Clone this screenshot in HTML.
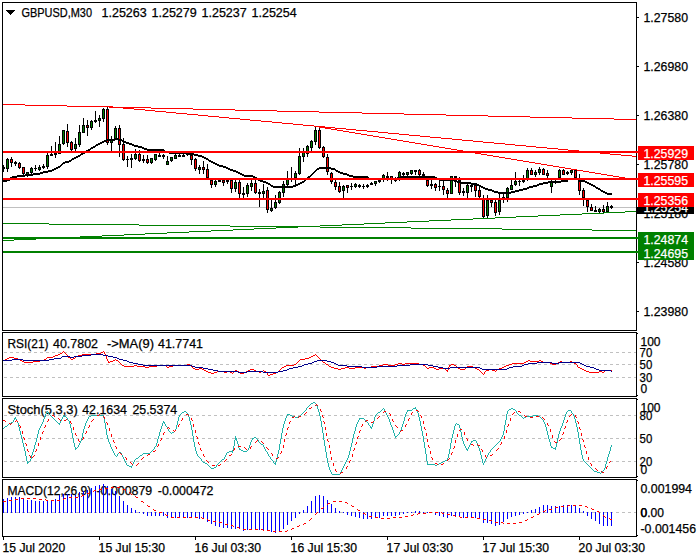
<!DOCTYPE html><html><head><meta charset="utf-8"><title>GBPUSD,M30</title>
<style>html,body{margin:0;padding:0;background:#fff;width:700px;height:560px;overflow:hidden}svg{display:block}text{font-family:"Liberation Sans",sans-serif;font-size:12px;fill:#000;stroke:#000;stroke-width:.25px}</style></head><body>
<svg width="700" height="560" viewBox="0 0 700 560">
<rect width="700" height="560" fill="#fff"/>
<g shape-rendering="crispEdges">
<path d="M4 352h3v1h-3zM10 352h3v1h-3zM16 352h3v1h-3zM22 352h3v1h-3zM28 352h3v1h-3zM34 352h3v1h-3zM40 352h3v1h-3zM46 352h3v1h-3zM52 352h3v1h-3zM58 352h3v1h-3zM64 352h3v1h-3zM70 352h3v1h-3zM76 352h3v1h-3zM82 352h3v1h-3zM88 352h3v1h-3zM94 352h3v1h-3zM100 352h3v1h-3zM106 352h3v1h-3zM112 352h3v1h-3zM118 352h3v1h-3zM124 352h3v1h-3zM130 352h3v1h-3zM136 352h3v1h-3zM142 352h3v1h-3zM148 352h3v1h-3zM154 352h3v1h-3zM160 352h3v1h-3zM166 352h3v1h-3zM172 352h3v1h-3zM178 352h3v1h-3zM184 352h3v1h-3zM190 352h3v1h-3zM196 352h3v1h-3zM202 352h3v1h-3zM208 352h3v1h-3zM214 352h3v1h-3zM220 352h3v1h-3zM226 352h3v1h-3zM232 352h3v1h-3zM238 352h3v1h-3zM244 352h3v1h-3zM250 352h3v1h-3zM256 352h3v1h-3zM262 352h3v1h-3zM268 352h3v1h-3zM274 352h3v1h-3zM280 352h3v1h-3zM286 352h3v1h-3zM292 352h3v1h-3zM298 352h3v1h-3zM304 352h3v1h-3zM310 352h3v1h-3zM316 352h3v1h-3zM322 352h3v1h-3zM328 352h3v1h-3zM334 352h3v1h-3zM340 352h3v1h-3zM346 352h3v1h-3zM352 352h3v1h-3zM358 352h3v1h-3zM364 352h3v1h-3zM370 352h3v1h-3zM376 352h3v1h-3zM382 352h3v1h-3zM388 352h3v1h-3zM394 352h3v1h-3zM400 352h3v1h-3zM406 352h3v1h-3zM412 352h3v1h-3zM418 352h3v1h-3zM424 352h3v1h-3zM430 352h3v1h-3zM436 352h3v1h-3zM442 352h3v1h-3zM448 352h3v1h-3zM454 352h3v1h-3zM460 352h3v1h-3zM466 352h3v1h-3zM472 352h3v1h-3zM478 352h3v1h-3zM484 352h3v1h-3zM490 352h3v1h-3zM496 352h3v1h-3zM502 352h3v1h-3zM508 352h3v1h-3zM514 352h3v1h-3zM520 352h3v1h-3zM526 352h3v1h-3zM532 352h3v1h-3zM538 352h3v1h-3zM544 352h3v1h-3zM550 352h3v1h-3zM556 352h3v1h-3zM562 352h3v1h-3zM568 352h3v1h-3zM574 352h3v1h-3zM580 352h3v1h-3zM586 352h3v1h-3zM592 352h3v1h-3zM598 352h3v1h-3zM604 352h3v1h-3zM610 352h3v1h-3zM616 352h3v1h-3zM622 352h3v1h-3zM628 352h3v1h-3zM634 352h2v1h-2z" fill="#c0c0c0"/>
<path d="M4 364h3v1h-3zM10 364h3v1h-3zM16 364h3v1h-3zM22 364h3v1h-3zM28 364h3v1h-3zM34 364h3v1h-3zM40 364h3v1h-3zM46 364h3v1h-3zM52 364h3v1h-3zM58 364h3v1h-3zM64 364h3v1h-3zM70 364h3v1h-3zM76 364h3v1h-3zM82 364h3v1h-3zM88 364h3v1h-3zM94 364h3v1h-3zM100 364h3v1h-3zM106 364h3v1h-3zM112 364h3v1h-3zM118 364h3v1h-3zM124 364h3v1h-3zM130 364h3v1h-3zM136 364h3v1h-3zM142 364h3v1h-3zM148 364h3v1h-3zM154 364h3v1h-3zM160 364h3v1h-3zM166 364h3v1h-3zM172 364h3v1h-3zM178 364h3v1h-3zM184 364h3v1h-3zM190 364h3v1h-3zM196 364h3v1h-3zM202 364h3v1h-3zM208 364h3v1h-3zM214 364h3v1h-3zM220 364h3v1h-3zM226 364h3v1h-3zM232 364h3v1h-3zM238 364h3v1h-3zM244 364h3v1h-3zM250 364h3v1h-3zM256 364h3v1h-3zM262 364h3v1h-3zM268 364h3v1h-3zM274 364h3v1h-3zM280 364h3v1h-3zM286 364h3v1h-3zM292 364h3v1h-3zM298 364h3v1h-3zM304 364h3v1h-3zM310 364h3v1h-3zM316 364h3v1h-3zM322 364h3v1h-3zM328 364h3v1h-3zM334 364h3v1h-3zM340 364h3v1h-3zM346 364h3v1h-3zM352 364h3v1h-3zM358 364h3v1h-3zM364 364h3v1h-3zM370 364h3v1h-3zM376 364h3v1h-3zM382 364h3v1h-3zM388 364h3v1h-3zM394 364h3v1h-3zM400 364h3v1h-3zM406 364h3v1h-3zM412 364h3v1h-3zM418 364h3v1h-3zM424 364h3v1h-3zM430 364h3v1h-3zM436 364h3v1h-3zM442 364h3v1h-3zM448 364h3v1h-3zM454 364h3v1h-3zM460 364h3v1h-3zM466 364h3v1h-3zM472 364h3v1h-3zM478 364h3v1h-3zM484 364h3v1h-3zM490 364h3v1h-3zM496 364h3v1h-3zM502 364h3v1h-3zM508 364h3v1h-3zM514 364h3v1h-3zM520 364h3v1h-3zM526 364h3v1h-3zM532 364h3v1h-3zM538 364h3v1h-3zM544 364h3v1h-3zM550 364h3v1h-3zM556 364h3v1h-3zM562 364h3v1h-3zM568 364h3v1h-3zM574 364h3v1h-3zM580 364h3v1h-3zM586 364h3v1h-3zM592 364h3v1h-3zM598 364h3v1h-3zM604 364h3v1h-3zM610 364h3v1h-3zM616 364h3v1h-3zM622 364h3v1h-3zM628 364h3v1h-3zM634 364h2v1h-2z" fill="#c0c0c0"/>
<path d="M4 377h3v1h-3zM10 377h3v1h-3zM16 377h3v1h-3zM22 377h3v1h-3zM28 377h3v1h-3zM34 377h3v1h-3zM40 377h3v1h-3zM46 377h3v1h-3zM52 377h3v1h-3zM58 377h3v1h-3zM64 377h3v1h-3zM70 377h3v1h-3zM76 377h3v1h-3zM82 377h3v1h-3zM88 377h3v1h-3zM94 377h3v1h-3zM100 377h3v1h-3zM106 377h3v1h-3zM112 377h3v1h-3zM118 377h3v1h-3zM124 377h3v1h-3zM130 377h3v1h-3zM136 377h3v1h-3zM142 377h3v1h-3zM148 377h3v1h-3zM154 377h3v1h-3zM160 377h3v1h-3zM166 377h3v1h-3zM172 377h3v1h-3zM178 377h3v1h-3zM184 377h3v1h-3zM190 377h3v1h-3zM196 377h3v1h-3zM202 377h3v1h-3zM208 377h3v1h-3zM214 377h3v1h-3zM220 377h3v1h-3zM226 377h3v1h-3zM232 377h3v1h-3zM238 377h3v1h-3zM244 377h3v1h-3zM250 377h3v1h-3zM256 377h3v1h-3zM262 377h3v1h-3zM268 377h3v1h-3zM274 377h3v1h-3zM280 377h3v1h-3zM286 377h3v1h-3zM292 377h3v1h-3zM298 377h3v1h-3zM304 377h3v1h-3zM310 377h3v1h-3zM316 377h3v1h-3zM322 377h3v1h-3zM328 377h3v1h-3zM334 377h3v1h-3zM340 377h3v1h-3zM346 377h3v1h-3zM352 377h3v1h-3zM358 377h3v1h-3zM364 377h3v1h-3zM370 377h3v1h-3zM376 377h3v1h-3zM382 377h3v1h-3zM388 377h3v1h-3zM394 377h3v1h-3zM400 377h3v1h-3zM406 377h3v1h-3zM412 377h3v1h-3zM418 377h3v1h-3zM424 377h3v1h-3zM430 377h3v1h-3zM436 377h3v1h-3zM442 377h3v1h-3zM448 377h3v1h-3zM454 377h3v1h-3zM460 377h3v1h-3zM466 377h3v1h-3zM472 377h3v1h-3zM478 377h3v1h-3zM484 377h3v1h-3zM490 377h3v1h-3zM496 377h3v1h-3zM502 377h3v1h-3zM508 377h3v1h-3zM514 377h3v1h-3zM520 377h3v1h-3zM526 377h3v1h-3zM532 377h3v1h-3zM538 377h3v1h-3zM544 377h3v1h-3zM550 377h3v1h-3zM556 377h3v1h-3zM562 377h3v1h-3zM568 377h3v1h-3zM574 377h3v1h-3zM580 377h3v1h-3zM586 377h3v1h-3zM592 377h3v1h-3zM598 377h3v1h-3zM604 377h3v1h-3zM610 377h3v1h-3zM616 377h3v1h-3zM622 377h3v1h-3zM628 377h3v1h-3zM634 377h2v1h-2z" fill="#c0c0c0"/>
<path d="M4 415h3v1h-3zM10 415h3v1h-3zM16 415h3v1h-3zM22 415h3v1h-3zM28 415h3v1h-3zM34 415h3v1h-3zM40 415h3v1h-3zM46 415h3v1h-3zM52 415h3v1h-3zM58 415h3v1h-3zM64 415h3v1h-3zM70 415h3v1h-3zM76 415h3v1h-3zM82 415h3v1h-3zM88 415h3v1h-3zM94 415h3v1h-3zM100 415h3v1h-3zM106 415h3v1h-3zM112 415h3v1h-3zM118 415h3v1h-3zM124 415h3v1h-3zM130 415h3v1h-3zM136 415h3v1h-3zM142 415h3v1h-3zM148 415h3v1h-3zM154 415h3v1h-3zM160 415h3v1h-3zM166 415h3v1h-3zM172 415h3v1h-3zM178 415h3v1h-3zM184 415h3v1h-3zM190 415h3v1h-3zM196 415h3v1h-3zM202 415h3v1h-3zM208 415h3v1h-3zM214 415h3v1h-3zM220 415h3v1h-3zM226 415h3v1h-3zM232 415h3v1h-3zM238 415h3v1h-3zM244 415h3v1h-3zM250 415h3v1h-3zM256 415h3v1h-3zM262 415h3v1h-3zM268 415h3v1h-3zM274 415h3v1h-3zM280 415h3v1h-3zM286 415h3v1h-3zM292 415h3v1h-3zM298 415h3v1h-3zM304 415h3v1h-3zM310 415h3v1h-3zM316 415h3v1h-3zM322 415h3v1h-3zM328 415h3v1h-3zM334 415h3v1h-3zM340 415h3v1h-3zM346 415h3v1h-3zM352 415h3v1h-3zM358 415h3v1h-3zM364 415h3v1h-3zM370 415h3v1h-3zM376 415h3v1h-3zM382 415h3v1h-3zM388 415h3v1h-3zM394 415h3v1h-3zM400 415h3v1h-3zM406 415h3v1h-3zM412 415h3v1h-3zM418 415h3v1h-3zM424 415h3v1h-3zM430 415h3v1h-3zM436 415h3v1h-3zM442 415h3v1h-3zM448 415h3v1h-3zM454 415h3v1h-3zM460 415h3v1h-3zM466 415h3v1h-3zM472 415h3v1h-3zM478 415h3v1h-3zM484 415h3v1h-3zM490 415h3v1h-3zM496 415h3v1h-3zM502 415h3v1h-3zM508 415h3v1h-3zM514 415h3v1h-3zM520 415h3v1h-3zM526 415h3v1h-3zM532 415h3v1h-3zM538 415h3v1h-3zM544 415h3v1h-3zM550 415h3v1h-3zM556 415h3v1h-3zM562 415h3v1h-3zM568 415h3v1h-3zM574 415h3v1h-3zM580 415h3v1h-3zM586 415h3v1h-3zM592 415h3v1h-3zM598 415h3v1h-3zM604 415h3v1h-3zM610 415h3v1h-3zM616 415h3v1h-3zM622 415h3v1h-3zM628 415h3v1h-3zM634 415h2v1h-2z" fill="#c0c0c0"/>
<path d="M4 438h3v1h-3zM10 438h3v1h-3zM16 438h3v1h-3zM22 438h3v1h-3zM28 438h3v1h-3zM34 438h3v1h-3zM40 438h3v1h-3zM46 438h3v1h-3zM52 438h3v1h-3zM58 438h3v1h-3zM64 438h3v1h-3zM70 438h3v1h-3zM76 438h3v1h-3zM82 438h3v1h-3zM88 438h3v1h-3zM94 438h3v1h-3zM100 438h3v1h-3zM106 438h3v1h-3zM112 438h3v1h-3zM118 438h3v1h-3zM124 438h3v1h-3zM130 438h3v1h-3zM136 438h3v1h-3zM142 438h3v1h-3zM148 438h3v1h-3zM154 438h3v1h-3zM160 438h3v1h-3zM166 438h3v1h-3zM172 438h3v1h-3zM178 438h3v1h-3zM184 438h3v1h-3zM190 438h3v1h-3zM196 438h3v1h-3zM202 438h3v1h-3zM208 438h3v1h-3zM214 438h3v1h-3zM220 438h3v1h-3zM226 438h3v1h-3zM232 438h3v1h-3zM238 438h3v1h-3zM244 438h3v1h-3zM250 438h3v1h-3zM256 438h3v1h-3zM262 438h3v1h-3zM268 438h3v1h-3zM274 438h3v1h-3zM280 438h3v1h-3zM286 438h3v1h-3zM292 438h3v1h-3zM298 438h3v1h-3zM304 438h3v1h-3zM310 438h3v1h-3zM316 438h3v1h-3zM322 438h3v1h-3zM328 438h3v1h-3zM334 438h3v1h-3zM340 438h3v1h-3zM346 438h3v1h-3zM352 438h3v1h-3zM358 438h3v1h-3zM364 438h3v1h-3zM370 438h3v1h-3zM376 438h3v1h-3zM382 438h3v1h-3zM388 438h3v1h-3zM394 438h3v1h-3zM400 438h3v1h-3zM406 438h3v1h-3zM412 438h3v1h-3zM418 438h3v1h-3zM424 438h3v1h-3zM430 438h3v1h-3zM436 438h3v1h-3zM442 438h3v1h-3zM448 438h3v1h-3zM454 438h3v1h-3zM460 438h3v1h-3zM466 438h3v1h-3zM472 438h3v1h-3zM478 438h3v1h-3zM484 438h3v1h-3zM490 438h3v1h-3zM496 438h3v1h-3zM502 438h3v1h-3zM508 438h3v1h-3zM514 438h3v1h-3zM520 438h3v1h-3zM526 438h3v1h-3zM532 438h3v1h-3zM538 438h3v1h-3zM544 438h3v1h-3zM550 438h3v1h-3zM556 438h3v1h-3zM562 438h3v1h-3zM568 438h3v1h-3zM574 438h3v1h-3zM580 438h3v1h-3zM586 438h3v1h-3zM592 438h3v1h-3zM598 438h3v1h-3zM604 438h3v1h-3zM610 438h3v1h-3zM616 438h3v1h-3zM622 438h3v1h-3zM628 438h3v1h-3zM634 438h2v1h-2z" fill="#c0c0c0"/>
<path d="M4 461h3v1h-3zM10 461h3v1h-3zM16 461h3v1h-3zM22 461h3v1h-3zM28 461h3v1h-3zM34 461h3v1h-3zM40 461h3v1h-3zM46 461h3v1h-3zM52 461h3v1h-3zM58 461h3v1h-3zM64 461h3v1h-3zM70 461h3v1h-3zM76 461h3v1h-3zM82 461h3v1h-3zM88 461h3v1h-3zM94 461h3v1h-3zM100 461h3v1h-3zM106 461h3v1h-3zM112 461h3v1h-3zM118 461h3v1h-3zM124 461h3v1h-3zM130 461h3v1h-3zM136 461h3v1h-3zM142 461h3v1h-3zM148 461h3v1h-3zM154 461h3v1h-3zM160 461h3v1h-3zM166 461h3v1h-3zM172 461h3v1h-3zM178 461h3v1h-3zM184 461h3v1h-3zM190 461h3v1h-3zM196 461h3v1h-3zM202 461h3v1h-3zM208 461h3v1h-3zM214 461h3v1h-3zM220 461h3v1h-3zM226 461h3v1h-3zM232 461h3v1h-3zM238 461h3v1h-3zM244 461h3v1h-3zM250 461h3v1h-3zM256 461h3v1h-3zM262 461h3v1h-3zM268 461h3v1h-3zM274 461h3v1h-3zM280 461h3v1h-3zM286 461h3v1h-3zM292 461h3v1h-3zM298 461h3v1h-3zM304 461h3v1h-3zM310 461h3v1h-3zM316 461h3v1h-3zM322 461h3v1h-3zM328 461h3v1h-3zM334 461h3v1h-3zM340 461h3v1h-3zM346 461h3v1h-3zM352 461h3v1h-3zM358 461h3v1h-3zM364 461h3v1h-3zM370 461h3v1h-3zM376 461h3v1h-3zM382 461h3v1h-3zM388 461h3v1h-3zM394 461h3v1h-3zM400 461h3v1h-3zM406 461h3v1h-3zM412 461h3v1h-3zM418 461h3v1h-3zM424 461h3v1h-3zM430 461h3v1h-3zM436 461h3v1h-3zM442 461h3v1h-3zM448 461h3v1h-3zM454 461h3v1h-3zM460 461h3v1h-3zM466 461h3v1h-3zM472 461h3v1h-3zM478 461h3v1h-3zM484 461h3v1h-3zM490 461h3v1h-3zM496 461h3v1h-3zM502 461h3v1h-3zM508 461h3v1h-3zM514 461h3v1h-3zM520 461h3v1h-3zM526 461h3v1h-3zM532 461h3v1h-3zM538 461h3v1h-3zM544 461h3v1h-3zM550 461h3v1h-3zM556 461h3v1h-3zM562 461h3v1h-3zM568 461h3v1h-3zM574 461h3v1h-3zM580 461h3v1h-3zM586 461h3v1h-3zM592 461h3v1h-3zM598 461h3v1h-3zM604 461h3v1h-3zM610 461h3v1h-3zM616 461h3v1h-3zM622 461h3v1h-3zM628 461h3v1h-3zM634 461h2v1h-2z" fill="#c0c0c0"/>
<path d="M4 512h3v1h-3zM10 512h3v1h-3zM16 512h3v1h-3zM22 512h3v1h-3zM28 512h3v1h-3zM34 512h3v1h-3zM40 512h3v1h-3zM46 512h3v1h-3zM52 512h3v1h-3zM58 512h3v1h-3zM64 512h3v1h-3zM70 512h3v1h-3zM76 512h3v1h-3zM82 512h3v1h-3zM88 512h3v1h-3zM94 512h3v1h-3zM100 512h3v1h-3zM106 512h3v1h-3zM112 512h3v1h-3zM118 512h3v1h-3zM124 512h3v1h-3zM130 512h3v1h-3zM136 512h3v1h-3zM142 512h3v1h-3zM148 512h3v1h-3zM154 512h3v1h-3zM160 512h3v1h-3zM166 512h3v1h-3zM172 512h3v1h-3zM178 512h3v1h-3zM184 512h3v1h-3zM190 512h3v1h-3zM196 512h3v1h-3zM202 512h3v1h-3zM208 512h3v1h-3zM214 512h3v1h-3zM220 512h3v1h-3zM226 512h3v1h-3zM232 512h3v1h-3zM238 512h3v1h-3zM244 512h3v1h-3zM250 512h3v1h-3zM256 512h3v1h-3zM262 512h3v1h-3zM268 512h3v1h-3zM274 512h3v1h-3zM280 512h3v1h-3zM286 512h3v1h-3zM292 512h3v1h-3zM298 512h3v1h-3zM304 512h3v1h-3zM310 512h3v1h-3zM316 512h3v1h-3zM322 512h3v1h-3zM328 512h3v1h-3zM334 512h3v1h-3zM340 512h3v1h-3zM346 512h3v1h-3zM352 512h3v1h-3zM358 512h3v1h-3zM364 512h3v1h-3zM370 512h3v1h-3zM376 512h3v1h-3zM382 512h3v1h-3zM388 512h3v1h-3zM394 512h3v1h-3zM400 512h3v1h-3zM406 512h3v1h-3zM412 512h3v1h-3zM418 512h3v1h-3zM424 512h3v1h-3zM430 512h3v1h-3zM436 512h3v1h-3zM442 512h3v1h-3zM448 512h3v1h-3zM454 512h3v1h-3zM460 512h3v1h-3zM466 512h3v1h-3zM472 512h3v1h-3zM478 512h3v1h-3zM484 512h3v1h-3zM490 512h3v1h-3zM496 512h3v1h-3zM502 512h3v1h-3zM508 512h3v1h-3zM514 512h3v1h-3zM520 512h3v1h-3zM526 512h3v1h-3zM532 512h3v1h-3zM538 512h3v1h-3zM544 512h3v1h-3zM550 512h3v1h-3zM556 512h3v1h-3zM562 512h3v1h-3zM568 512h3v1h-3zM574 512h3v1h-3zM580 512h3v1h-3zM586 512h3v1h-3zM592 512h3v1h-3zM598 512h3v1h-3zM604 512h3v1h-3zM610 512h3v1h-3zM616 512h3v1h-3zM622 512h3v1h-3zM628 512h3v1h-3zM634 512h2v1h-2z" fill="#c0c0c0"/>
<rect x="3" y="207" width="635" height="1" fill="#c0c0c0"/>
<rect x="3" y="165" width="1" height="7" fill="#000"/>
<rect x="2" y="167" width="3" height="2" fill="#000"/>
<rect x="7" y="158" width="1" height="14" fill="#000"/>
<rect x="6" y="159" width="3" height="10" fill="#000"/>
<rect x="7" y="160" width="1" height="8" fill="#008000"/>
<rect x="11" y="157" width="1" height="10" fill="#000"/>
<rect x="10" y="159" width="3" height="4" fill="#000"/>
<rect x="11" y="160" width="1" height="2" fill="#ff0000"/>
<rect x="15" y="161" width="1" height="5" fill="#000"/>
<rect x="14" y="162" width="3" height="2" fill="#000"/>
<rect x="19" y="162" width="1" height="7" fill="#000"/>
<rect x="18" y="163" width="3" height="5" fill="#000"/>
<rect x="19" y="164" width="1" height="3" fill="#ff0000"/>
<rect x="23" y="167" width="1" height="9" fill="#000"/>
<rect x="22" y="167" width="3" height="7" fill="#000"/>
<rect x="23" y="168" width="1" height="5" fill="#ff0000"/>
<rect x="27" y="172" width="1" height="5" fill="#000"/>
<rect x="26" y="172" width="3" height="3" fill="#000"/>
<rect x="27" y="173" width="1" height="1" fill="#008000"/>
<rect x="31" y="167" width="1" height="7" fill="#000"/>
<rect x="30" y="168" width="3" height="5" fill="#000"/>
<rect x="31" y="169" width="1" height="3" fill="#008000"/>
<rect x="35" y="165" width="1" height="6" fill="#000"/>
<rect x="34" y="168" width="3" height="1" fill="#000"/>
<rect x="39" y="165" width="1" height="6" fill="#000"/>
<rect x="38" y="167" width="3" height="3" fill="#000"/>
<rect x="39" y="168" width="1" height="1" fill="#008000"/>
<rect x="43" y="164" width="1" height="5" fill="#000"/>
<rect x="42" y="166" width="3" height="2" fill="#000"/>
<rect x="47" y="153" width="1" height="16" fill="#000"/>
<rect x="46" y="155" width="3" height="12" fill="#000"/>
<rect x="47" y="156" width="1" height="10" fill="#008000"/>
<rect x="51" y="146" width="1" height="10" fill="#000"/>
<rect x="50" y="154" width="3" height="2" fill="#000"/>
<rect x="55" y="142" width="1" height="16" fill="#000"/>
<rect x="54" y="153" width="3" height="2" fill="#000"/>
<rect x="59" y="136" width="1" height="18" fill="#000"/>
<rect x="58" y="144" width="3" height="10" fill="#000"/>
<rect x="59" y="145" width="1" height="8" fill="#008000"/>
<rect x="63" y="130" width="1" height="15" fill="#000"/>
<rect x="62" y="130" width="3" height="14" fill="#000"/>
<rect x="63" y="131" width="1" height="12" fill="#008000"/>
<rect x="67" y="124" width="1" height="23" fill="#000"/>
<rect x="66" y="131" width="3" height="12" fill="#000"/>
<rect x="67" y="132" width="1" height="10" fill="#ff0000"/>
<rect x="71" y="141" width="1" height="10" fill="#000"/>
<rect x="70" y="142" width="3" height="8" fill="#000"/>
<rect x="71" y="143" width="1" height="6" fill="#ff0000"/>
<rect x="75" y="138" width="1" height="13" fill="#000"/>
<rect x="74" y="144" width="3" height="5" fill="#000"/>
<rect x="75" y="145" width="1" height="3" fill="#008000"/>
<rect x="79" y="125" width="1" height="22" fill="#000"/>
<rect x="78" y="132" width="3" height="13" fill="#000"/>
<rect x="79" y="133" width="1" height="11" fill="#008000"/>
<rect x="83" y="118" width="1" height="15" fill="#000"/>
<rect x="82" y="125" width="3" height="8" fill="#000"/>
<rect x="83" y="126" width="1" height="6" fill="#008000"/>
<rect x="87" y="120" width="1" height="16" fill="#000"/>
<rect x="86" y="125" width="3" height="3" fill="#000"/>
<rect x="87" y="126" width="1" height="1" fill="#ff0000"/>
<rect x="91" y="120" width="1" height="10" fill="#000"/>
<rect x="90" y="121" width="3" height="7" fill="#000"/>
<rect x="91" y="122" width="1" height="5" fill="#008000"/>
<rect x="95" y="111" width="1" height="12" fill="#000"/>
<rect x="94" y="120" width="3" height="2" fill="#000"/>
<rect x="99" y="115" width="1" height="12" fill="#000"/>
<rect x="98" y="118" width="3" height="3" fill="#000"/>
<rect x="99" y="119" width="1" height="1" fill="#008000"/>
<rect x="103" y="108" width="1" height="14" fill="#000"/>
<rect x="102" y="109" width="3" height="10" fill="#000"/>
<rect x="103" y="110" width="1" height="8" fill="#008000"/>
<rect x="107" y="107" width="1" height="38" fill="#000"/>
<rect x="106" y="109" width="3" height="34" fill="#000"/>
<rect x="107" y="110" width="1" height="32" fill="#ff0000"/>
<rect x="111" y="136" width="1" height="15" fill="#000"/>
<rect x="110" y="140" width="3" height="3" fill="#000"/>
<rect x="111" y="141" width="1" height="1" fill="#008000"/>
<rect x="115" y="126" width="1" height="13" fill="#000"/>
<rect x="114" y="128" width="3" height="11" fill="#000"/>
<rect x="115" y="129" width="1" height="9" fill="#008000"/>
<rect x="119" y="125" width="1" height="32" fill="#000"/>
<rect x="118" y="128" width="3" height="17" fill="#000"/>
<rect x="119" y="129" width="1" height="15" fill="#ff0000"/>
<rect x="123" y="138" width="1" height="23" fill="#000"/>
<rect x="122" y="144" width="3" height="16" fill="#000"/>
<rect x="123" y="145" width="1" height="14" fill="#ff0000"/>
<rect x="127" y="156" width="1" height="11" fill="#000"/>
<rect x="126" y="159" width="3" height="1" fill="#000"/>
<rect x="131" y="154" width="1" height="14" fill="#000"/>
<rect x="130" y="158" width="3" height="2" fill="#000"/>
<rect x="135" y="149" width="1" height="11" fill="#000"/>
<rect x="134" y="154" width="3" height="5" fill="#000"/>
<rect x="135" y="155" width="1" height="3" fill="#008000"/>
<rect x="139" y="150" width="1" height="12" fill="#000"/>
<rect x="138" y="154" width="3" height="7" fill="#000"/>
<rect x="139" y="155" width="1" height="5" fill="#ff0000"/>
<rect x="143" y="155" width="1" height="8" fill="#000"/>
<rect x="142" y="159" width="3" height="2" fill="#000"/>
<rect x="147" y="155" width="1" height="9" fill="#000"/>
<rect x="146" y="159" width="3" height="4" fill="#000"/>
<rect x="147" y="160" width="1" height="2" fill="#ff0000"/>
<rect x="151" y="158" width="1" height="6" fill="#000"/>
<rect x="150" y="158" width="3" height="5" fill="#000"/>
<rect x="151" y="159" width="1" height="3" fill="#008000"/>
<rect x="155" y="154" width="1" height="7" fill="#000"/>
<rect x="154" y="154" width="3" height="6" fill="#000"/>
<rect x="155" y="155" width="1" height="4" fill="#008000"/>
<rect x="159" y="153" width="1" height="4" fill="#000"/>
<rect x="158" y="155" width="3" height="2" fill="#000"/>
<rect x="163" y="154" width="1" height="5" fill="#000"/>
<rect x="162" y="155" width="3" height="2" fill="#000"/>
<rect x="167" y="156" width="1" height="9" fill="#000"/>
<rect x="166" y="161" width="3" height="4" fill="#000"/>
<rect x="167" y="162" width="1" height="2" fill="#008000"/>
<rect x="171" y="157" width="1" height="5" fill="#000"/>
<rect x="170" y="157" width="3" height="4" fill="#000"/>
<rect x="171" y="158" width="1" height="2" fill="#008000"/>
<rect x="175" y="154" width="1" height="5" fill="#000"/>
<rect x="174" y="155" width="3" height="4" fill="#000"/>
<rect x="175" y="156" width="1" height="2" fill="#008000"/>
<rect x="179" y="154" width="1" height="3" fill="#000"/>
<rect x="178" y="155" width="3" height="2" fill="#000"/>
<rect x="183" y="154" width="1" height="3" fill="#000"/>
<rect x="182" y="155" width="3" height="2" fill="#000"/>
<rect x="187" y="152" width="1" height="4" fill="#000"/>
<rect x="186" y="153" width="3" height="2" fill="#000"/>
<rect x="191" y="153" width="1" height="12" fill="#000"/>
<rect x="190" y="155" width="3" height="5" fill="#000"/>
<rect x="191" y="156" width="1" height="3" fill="#ff0000"/>
<rect x="195" y="158" width="1" height="13" fill="#000"/>
<rect x="194" y="159" width="3" height="10" fill="#000"/>
<rect x="195" y="160" width="1" height="8" fill="#ff0000"/>
<rect x="199" y="165" width="1" height="9" fill="#000"/>
<rect x="198" y="167" width="3" height="3" fill="#000"/>
<rect x="199" y="168" width="1" height="1" fill="#008000"/>
<rect x="203" y="161" width="1" height="13" fill="#000"/>
<rect x="202" y="167" width="3" height="3" fill="#000"/>
<rect x="203" y="168" width="1" height="1" fill="#ff0000"/>
<rect x="207" y="164" width="1" height="15" fill="#000"/>
<rect x="206" y="169" width="3" height="9" fill="#000"/>
<rect x="207" y="170" width="1" height="7" fill="#ff0000"/>
<rect x="211" y="179" width="1" height="9" fill="#000"/>
<rect x="210" y="180" width="3" height="5" fill="#000"/>
<rect x="211" y="181" width="1" height="3" fill="#ff0000"/>
<rect x="215" y="180" width="1" height="7" fill="#000"/>
<rect x="214" y="181" width="3" height="4" fill="#000"/>
<rect x="215" y="182" width="1" height="2" fill="#008000"/>
<rect x="219" y="180" width="1" height="2" fill="#000"/>
<rect x="218" y="180" width="3" height="2" fill="#000"/>
<rect x="223" y="180" width="1" height="6" fill="#000"/>
<rect x="222" y="180" width="3" height="3" fill="#000"/>
<rect x="223" y="181" width="1" height="1" fill="#ff0000"/>
<rect x="227" y="180" width="1" height="4" fill="#000"/>
<rect x="226" y="180" width="3" height="2" fill="#000"/>
<rect x="231" y="180" width="1" height="13" fill="#000"/>
<rect x="230" y="180" width="3" height="9" fill="#000"/>
<rect x="231" y="181" width="1" height="7" fill="#ff0000"/>
<rect x="235" y="180" width="1" height="12" fill="#000"/>
<rect x="234" y="182" width="3" height="7" fill="#000"/>
<rect x="235" y="183" width="1" height="5" fill="#008000"/>
<rect x="239" y="180" width="1" height="18" fill="#000"/>
<rect x="238" y="182" width="3" height="12" fill="#000"/>
<rect x="239" y="183" width="1" height="10" fill="#ff0000"/>
<rect x="243" y="187" width="1" height="11" fill="#000"/>
<rect x="242" y="193" width="3" height="2" fill="#000"/>
<rect x="247" y="183" width="1" height="14" fill="#000"/>
<rect x="246" y="185" width="3" height="9" fill="#000"/>
<rect x="247" y="186" width="1" height="7" fill="#008000"/>
<rect x="251" y="179" width="1" height="12" fill="#000"/>
<rect x="250" y="183" width="3" height="4" fill="#000"/>
<rect x="251" y="184" width="1" height="2" fill="#008000"/>
<rect x="255" y="179" width="1" height="15" fill="#000"/>
<rect x="254" y="183" width="3" height="10" fill="#000"/>
<rect x="255" y="184" width="1" height="8" fill="#ff0000"/>
<rect x="259" y="189" width="1" height="18" fill="#000"/>
<rect x="258" y="192" width="3" height="2" fill="#000"/>
<rect x="263" y="184" width="1" height="14" fill="#000"/>
<rect x="262" y="191" width="3" height="3" fill="#000"/>
<rect x="263" y="192" width="1" height="1" fill="#008000"/>
<rect x="267" y="187" width="1" height="26" fill="#000"/>
<rect x="266" y="190" width="3" height="20" fill="#000"/>
<rect x="267" y="191" width="1" height="18" fill="#ff0000"/>
<rect x="271" y="200" width="1" height="12" fill="#000"/>
<rect x="270" y="208" width="3" height="3" fill="#000"/>
<rect x="271" y="209" width="1" height="1" fill="#008000"/>
<rect x="275" y="195" width="1" height="14" fill="#000"/>
<rect x="274" y="202" width="3" height="6" fill="#000"/>
<rect x="275" y="203" width="1" height="4" fill="#008000"/>
<rect x="279" y="191" width="1" height="13" fill="#000"/>
<rect x="278" y="192" width="3" height="11" fill="#000"/>
<rect x="279" y="193" width="1" height="9" fill="#008000"/>
<rect x="283" y="181" width="1" height="16" fill="#000"/>
<rect x="282" y="184" width="3" height="9" fill="#000"/>
<rect x="283" y="185" width="1" height="7" fill="#008000"/>
<rect x="287" y="171" width="1" height="15" fill="#000"/>
<rect x="286" y="179" width="3" height="6" fill="#000"/>
<rect x="287" y="180" width="1" height="4" fill="#008000"/>
<rect x="291" y="167" width="1" height="15" fill="#000"/>
<rect x="295" y="171" width="1" height="16" fill="#000"/>
<rect x="294" y="173" width="3" height="5" fill="#000"/>
<rect x="295" y="174" width="1" height="3" fill="#008000"/>
<rect x="299" y="148" width="1" height="27" fill="#000"/>
<rect x="298" y="156" width="3" height="18" fill="#000"/>
<rect x="299" y="157" width="1" height="16" fill="#008000"/>
<rect x="303" y="148" width="1" height="14" fill="#000"/>
<rect x="302" y="152" width="3" height="5" fill="#000"/>
<rect x="303" y="153" width="1" height="3" fill="#008000"/>
<rect x="307" y="145" width="1" height="12" fill="#000"/>
<rect x="306" y="146" width="3" height="8" fill="#000"/>
<rect x="307" y="147" width="1" height="6" fill="#008000"/>
<rect x="311" y="140" width="1" height="11" fill="#000"/>
<rect x="310" y="141" width="3" height="7" fill="#000"/>
<rect x="311" y="142" width="1" height="5" fill="#008000"/>
<rect x="315" y="127" width="1" height="18" fill="#000"/>
<rect x="314" y="130" width="3" height="12" fill="#000"/>
<rect x="315" y="131" width="1" height="10" fill="#008000"/>
<rect x="319" y="127" width="1" height="22" fill="#000"/>
<rect x="318" y="130" width="3" height="18" fill="#000"/>
<rect x="319" y="131" width="1" height="16" fill="#ff0000"/>
<rect x="323" y="146" width="1" height="12" fill="#000"/>
<rect x="322" y="147" width="3" height="10" fill="#000"/>
<rect x="323" y="148" width="1" height="8" fill="#ff0000"/>
<rect x="327" y="154" width="1" height="21" fill="#000"/>
<rect x="326" y="157" width="3" height="15" fill="#000"/>
<rect x="327" y="158" width="1" height="13" fill="#ff0000"/>
<rect x="331" y="172" width="1" height="12" fill="#000"/>
<rect x="330" y="173" width="3" height="9" fill="#000"/>
<rect x="331" y="174" width="1" height="7" fill="#ff0000"/>
<rect x="335" y="180" width="1" height="10" fill="#000"/>
<rect x="334" y="182" width="3" height="5" fill="#000"/>
<rect x="335" y="183" width="1" height="3" fill="#ff0000"/>
<rect x="339" y="182" width="1" height="11" fill="#000"/>
<rect x="338" y="186" width="3" height="6" fill="#000"/>
<rect x="339" y="187" width="1" height="4" fill="#ff0000"/>
<rect x="343" y="185" width="1" height="13" fill="#000"/>
<rect x="342" y="186" width="3" height="5" fill="#000"/>
<rect x="343" y="187" width="1" height="3" fill="#008000"/>
<rect x="347" y="185" width="1" height="8" fill="#000"/>
<rect x="346" y="185" width="3" height="3" fill="#000"/>
<rect x="347" y="186" width="1" height="1" fill="#ff0000"/>
<rect x="351" y="183" width="1" height="7" fill="#000"/>
<rect x="350" y="186" width="3" height="1" fill="#000"/>
<rect x="355" y="183" width="1" height="5" fill="#000"/>
<rect x="354" y="184" width="3" height="3" fill="#000"/>
<rect x="355" y="185" width="1" height="1" fill="#008000"/>
<rect x="359" y="184" width="1" height="4" fill="#000"/>
<rect x="358" y="185" width="3" height="2" fill="#000"/>
<rect x="363" y="184" width="1" height="5" fill="#000"/>
<rect x="362" y="186" width="3" height="1" fill="#000"/>
<rect x="367" y="184" width="1" height="4" fill="#000"/>
<rect x="366" y="185" width="3" height="2" fill="#000"/>
<rect x="371" y="182" width="1" height="3" fill="#000"/>
<rect x="370" y="183" width="3" height="2" fill="#000"/>
<rect x="375" y="181" width="1" height="5" fill="#000"/>
<rect x="374" y="181" width="3" height="3" fill="#000"/>
<rect x="375" y="182" width="1" height="1" fill="#008000"/>
<rect x="379" y="179" width="1" height="4" fill="#000"/>
<rect x="378" y="180" width="3" height="2" fill="#000"/>
<rect x="383" y="174" width="1" height="8" fill="#000"/>
<rect x="382" y="175" width="3" height="5" fill="#000"/>
<rect x="383" y="176" width="1" height="3" fill="#008000"/>
<rect x="387" y="172" width="1" height="9" fill="#000"/>
<rect x="386" y="176" width="3" height="2" fill="#000"/>
<rect x="391" y="176" width="1" height="8" fill="#000"/>
<rect x="390" y="176" width="3" height="4" fill="#000"/>
<rect x="391" y="177" width="1" height="2" fill="#ff0000"/>
<rect x="395" y="177" width="1" height="5" fill="#000"/>
<rect x="394" y="179" width="3" height="2" fill="#000"/>
<rect x="399" y="171" width="1" height="10" fill="#000"/>
<rect x="398" y="172" width="3" height="7" fill="#000"/>
<rect x="399" y="173" width="1" height="5" fill="#008000"/>
<rect x="403" y="172" width="1" height="5" fill="#000"/>
<rect x="402" y="173" width="3" height="2" fill="#000"/>
<rect x="407" y="172" width="1" height="4" fill="#000"/>
<rect x="406" y="172" width="3" height="3" fill="#000"/>
<rect x="407" y="173" width="1" height="1" fill="#008000"/>
<rect x="411" y="170" width="1" height="5" fill="#000"/>
<rect x="410" y="170" width="3" height="4" fill="#000"/>
<rect x="411" y="171" width="1" height="2" fill="#008000"/>
<rect x="415" y="170" width="1" height="5" fill="#000"/>
<rect x="414" y="170" width="3" height="2" fill="#000"/>
<rect x="419" y="169" width="1" height="7" fill="#000"/>
<rect x="418" y="170" width="3" height="5" fill="#000"/>
<rect x="419" y="171" width="1" height="3" fill="#ff0000"/>
<rect x="423" y="172" width="1" height="5" fill="#000"/>
<rect x="422" y="174" width="3" height="2" fill="#000"/>
<rect x="427" y="179" width="1" height="8" fill="#000"/>
<rect x="426" y="180" width="3" height="6" fill="#000"/>
<rect x="427" y="181" width="1" height="4" fill="#ff0000"/>
<rect x="431" y="180" width="1" height="9" fill="#000"/>
<rect x="430" y="184" width="3" height="2" fill="#000"/>
<rect x="435" y="183" width="1" height="8" fill="#000"/>
<rect x="434" y="184" width="3" height="4" fill="#000"/>
<rect x="435" y="185" width="1" height="2" fill="#ff0000"/>
<rect x="439" y="180" width="1" height="11" fill="#000"/>
<rect x="438" y="186" width="3" height="1" fill="#000"/>
<rect x="443" y="181" width="1" height="14" fill="#000"/>
<rect x="442" y="186" width="3" height="4" fill="#000"/>
<rect x="443" y="187" width="1" height="2" fill="#ff0000"/>
<rect x="447" y="188" width="1" height="10" fill="#000"/>
<rect x="446" y="190" width="3" height="4" fill="#000"/>
<rect x="447" y="191" width="1" height="2" fill="#ff0000"/>
<rect x="451" y="176" width="1" height="18" fill="#000"/>
<rect x="450" y="176" width="3" height="18" fill="#000"/>
<rect x="451" y="177" width="1" height="16" fill="#008000"/>
<rect x="455" y="176" width="1" height="11" fill="#000"/>
<rect x="454" y="176" width="3" height="2" fill="#000"/>
<rect x="459" y="177" width="1" height="18" fill="#000"/>
<rect x="458" y="180" width="3" height="13" fill="#000"/>
<rect x="459" y="181" width="1" height="11" fill="#ff0000"/>
<rect x="463" y="188" width="1" height="8" fill="#000"/>
<rect x="462" y="191" width="3" height="2" fill="#000"/>
<rect x="467" y="182" width="1" height="16" fill="#000"/>
<rect x="466" y="185" width="3" height="8" fill="#000"/>
<rect x="467" y="186" width="1" height="6" fill="#008000"/>
<rect x="471" y="183" width="1" height="9" fill="#000"/>
<rect x="470" y="185" width="3" height="2" fill="#000"/>
<rect x="475" y="185" width="1" height="12" fill="#000"/>
<rect x="474" y="185" width="3" height="6" fill="#000"/>
<rect x="475" y="186" width="1" height="4" fill="#ff0000"/>
<rect x="479" y="185" width="1" height="13" fill="#000"/>
<rect x="478" y="190" width="3" height="7" fill="#000"/>
<rect x="479" y="191" width="1" height="5" fill="#ff0000"/>
<rect x="483" y="195" width="1" height="23" fill="#000"/>
<rect x="482" y="198" width="3" height="19" fill="#000"/>
<rect x="483" y="199" width="1" height="17" fill="#ff0000"/>
<rect x="487" y="195" width="1" height="23" fill="#000"/>
<rect x="486" y="200" width="3" height="16" fill="#000"/>
<rect x="487" y="201" width="1" height="14" fill="#008000"/>
<rect x="491" y="200" width="1" height="7" fill="#000"/>
<rect x="490" y="200" width="3" height="3" fill="#000"/>
<rect x="491" y="201" width="1" height="1" fill="#ff0000"/>
<rect x="495" y="200" width="1" height="16" fill="#000"/>
<rect x="494" y="202" width="3" height="11" fill="#000"/>
<rect x="495" y="203" width="1" height="9" fill="#ff0000"/>
<rect x="499" y="194" width="1" height="21" fill="#000"/>
<rect x="498" y="200" width="3" height="12" fill="#000"/>
<rect x="499" y="201" width="1" height="10" fill="#008000"/>
<rect x="503" y="194" width="1" height="9" fill="#000"/>
<rect x="502" y="197" width="3" height="3" fill="#000"/>
<rect x="507" y="187" width="1" height="15" fill="#000"/>
<rect x="506" y="188" width="3" height="10" fill="#000"/>
<rect x="507" y="189" width="1" height="8" fill="#008000"/>
<rect x="511" y="180" width="1" height="10" fill="#000"/>
<rect x="510" y="185" width="3" height="5" fill="#000"/>
<rect x="511" y="186" width="1" height="3" fill="#008000"/>
<rect x="515" y="172" width="1" height="14" fill="#000"/>
<rect x="514" y="181" width="3" height="4" fill="#000"/>
<rect x="515" y="182" width="1" height="2" fill="#008000"/>
<rect x="519" y="179" width="1" height="7" fill="#000"/>
<rect x="518" y="181" width="3" height="1" fill="#000"/>
<rect x="523" y="175" width="1" height="8" fill="#000"/>
<rect x="522" y="180" width="3" height="2" fill="#000"/>
<rect x="527" y="168" width="1" height="13" fill="#000"/>
<rect x="526" y="170" width="3" height="10" fill="#000"/>
<rect x="527" y="171" width="1" height="8" fill="#008000"/>
<rect x="531" y="168" width="1" height="7" fill="#000"/>
<rect x="530" y="170" width="3" height="5" fill="#000"/>
<rect x="531" y="171" width="1" height="3" fill="#ff0000"/>
<rect x="535" y="170" width="1" height="7" fill="#000"/>
<rect x="534" y="172" width="3" height="3" fill="#000"/>
<rect x="535" y="173" width="1" height="1" fill="#008000"/>
<rect x="539" y="167" width="1" height="8" fill="#000"/>
<rect x="538" y="169" width="3" height="4" fill="#000"/>
<rect x="539" y="170" width="1" height="2" fill="#008000"/>
<rect x="543" y="168" width="1" height="7" fill="#000"/>
<rect x="542" y="169" width="3" height="6" fill="#000"/>
<rect x="543" y="170" width="1" height="4" fill="#ff0000"/>
<rect x="547" y="170" width="1" height="8" fill="#000"/>
<rect x="546" y="173" width="3" height="3" fill="#000"/>
<rect x="547" y="174" width="1" height="1" fill="#ff0000"/>
<rect x="551" y="180" width="1" height="13" fill="#000"/>
<rect x="550" y="181" width="3" height="6" fill="#000"/>
<rect x="551" y="182" width="1" height="4" fill="#008000"/>
<rect x="555" y="180" width="1" height="4" fill="#000"/>
<rect x="554" y="181" width="3" height="2" fill="#000"/>
<rect x="559" y="169" width="1" height="10" fill="#000"/>
<rect x="558" y="170" width="3" height="8" fill="#000"/>
<rect x="559" y="171" width="1" height="6" fill="#008000"/>
<rect x="563" y="169" width="1" height="6" fill="#000"/>
<rect x="562" y="170" width="3" height="5" fill="#000"/>
<rect x="563" y="171" width="1" height="3" fill="#ff0000"/>
<rect x="567" y="171" width="1" height="4" fill="#000"/>
<rect x="566" y="172" width="3" height="2" fill="#000"/>
<rect x="571" y="169" width="1" height="6" fill="#000"/>
<rect x="570" y="170" width="3" height="3" fill="#000"/>
<rect x="571" y="171" width="1" height="1" fill="#008000"/>
<rect x="575" y="169" width="1" height="9" fill="#000"/>
<rect x="574" y="170" width="3" height="8" fill="#000"/>
<rect x="575" y="171" width="1" height="6" fill="#ff0000"/>
<rect x="579" y="174" width="1" height="21" fill="#000"/>
<rect x="578" y="178" width="3" height="13" fill="#000"/>
<rect x="579" y="179" width="1" height="11" fill="#ff0000"/>
<rect x="583" y="188" width="1" height="18" fill="#000"/>
<rect x="582" y="190" width="3" height="8" fill="#000"/>
<rect x="583" y="191" width="1" height="6" fill="#ff0000"/>
<rect x="587" y="199" width="1" height="13" fill="#000"/>
<rect x="586" y="200" width="3" height="7" fill="#000"/>
<rect x="587" y="201" width="1" height="5" fill="#ff0000"/>
<rect x="591" y="204" width="1" height="7" fill="#000"/>
<rect x="590" y="207" width="3" height="4" fill="#000"/>
<rect x="591" y="208" width="1" height="2" fill="#ff0000"/>
<rect x="595" y="206" width="1" height="6" fill="#000"/>
<rect x="594" y="210" width="3" height="2" fill="#000"/>
<rect x="599" y="208" width="1" height="5" fill="#000"/>
<rect x="598" y="209" width="3" height="3" fill="#000"/>
<rect x="599" y="210" width="1" height="1" fill="#008000"/>
<rect x="603" y="205" width="1" height="8" fill="#000"/>
<rect x="602" y="209" width="3" height="3" fill="#000"/>
<rect x="603" y="210" width="1" height="1" fill="#ff0000"/>
<rect x="607" y="202" width="1" height="10" fill="#000"/>
<rect x="606" y="206" width="3" height="6" fill="#000"/>
<rect x="607" y="207" width="1" height="4" fill="#008000"/>
<rect x="611" y="205" width="1" height="4" fill="#000"/>
<rect x="610" y="206" width="3" height="2" fill="#000"/>
<path d="M115 138h4v1h-4zM106 139h16v1h-16zM104 140h11v1h-11zM119 140h5v1h-5zM102 141h4v1h-4zM122 141h4v1h-4zM100 142h4v1h-4zM124 142h5v1h-5zM98 143h4v1h-4zM126 143h6v1h-6zM96 144h4v1h-4zM129 144h5v1h-5zM95 145h3v1h-3zM132 145h6v1h-6zM93 146h3v1h-3zM134 146h8v1h-8zM91 147h4v1h-4zM138 147h6v1h-6zM90 148h3v1h-3zM142 148h5v1h-5zM88 149h3v1h-3zM144 149h20v1h-20zM86 150h4v1h-4zM147 150h18v1h-18zM85 151h3v1h-3zM164 151h5v1h-5zM83 152h3v1h-3zM165 152h22v1h-22zM81 153h4v1h-4zM169 153h25v1h-25zM80 154h3v1h-3zM187 154h11v1h-11zM78 155h3v1h-3zM194 155h8v1h-8zM76 156h4v1h-4zM198 156h6v1h-6zM74 157h4v1h-4zM202 157h4v1h-4zM72 158h4v1h-4zM204 158h4v1h-4zM71 159h3v1h-3zM206 159h3v1h-3zM69 160h3v1h-3zM208 160h3v1h-3zM65 161h6v1h-6zM209 161h4v1h-4zM63 162h6v1h-6zM211 162h4v1h-4zM62 163h3v1h-3zM213 163h4v1h-4zM61 164h2v1h-2zM215 164h4v1h-4zM60 165h2v1h-2zM217 165h6v1h-6zM58 166h3v1h-3zM219 166h7v1h-7zM56 167h4v1h-4zM223 167h5v1h-5zM319 167h12v1h-12zM54 168h4v1h-4zM226 168h4v1h-4zM317 168h18v1h-18zM52 169h4v1h-4zM228 169h5v1h-5zM316 169h3v1h-3zM331 169h5v1h-5zM48 170h6v1h-6zM230 170h6v1h-6zM315 170h2v1h-2zM335 170h3v1h-3zM43 171h9v1h-9zM233 171h5v1h-5zM314 171h2v1h-2zM336 171h4v1h-4zM40 172h8v1h-8zM236 172h4v1h-4zM313 172h2v1h-2zM338 172h5v1h-5zM33 173h10v1h-10zM238 173h4v1h-4zM312 173h2v1h-2zM340 173h7v1h-7zM25 174h15v1h-15zM240 174h4v1h-4zM311 174h2v1h-2zM343 174h6v1h-6zM17 175h16v1h-16zM242 175h11v1h-11zM310 175h2v1h-2zM347 175h6v1h-6zM12 176h13v1h-13zM244 176h11v1h-11zM308 176h3v1h-3zM349 176h19v1h-19zM400 176h35v1h-35zM10 177h7v1h-7zM253 177h4v1h-4zM307 177h3v1h-3zM353 177h16v1h-16zM397 177h40v1h-40zM9 178h2v1h-2zM255 178h3v1h-3zM305 178h3v1h-3zM368 178h32v1h-32zM435 178h4v1h-4zM569 178h9v1h-9zM7 179h4v1h-4zM257 179h3v1h-3zM304 179h2v1h-2zM369 179h28v1h-28zM437 179h17v1h-17zM567 179h12v1h-12zM3 180h7v1h-7zM258 180h5v1h-5zM304 180h2v1h-2zM439 180h18v1h-18zM561 180h7v1h-7zM578 180h7v1h-7zM3 181h4v1h-4zM260 181h6v1h-6zM302 181h3v1h-3zM454 181h6v1h-6zM548 181h20v1h-20zM579 181h8v1h-8zM263 182h5v1h-5zM300 182h4v1h-4zM457 182h14v1h-14zM543 182h18v1h-18zM585 182h4v1h-4zM266 183h4v1h-4zM298 183h4v1h-4zM460 183h17v1h-17zM539 183h9v1h-9zM587 183h4v1h-4zM268 184h3v1h-3zM296 184h4v1h-4zM471 184h8v1h-8zM537 184h6v1h-6zM589 184h4v1h-4zM270 185h3v1h-3zM293 185h5v1h-5zM477 185h4v1h-4zM533 185h6v1h-6zM591 185h4v1h-4zM271 186h25v1h-25zM479 186h4v1h-4zM529 186h8v1h-8zM593 186h3v1h-3zM273 187h20v1h-20zM481 187h4v1h-4zM527 187h6v1h-6zM595 187h3v1h-3zM483 188h5v1h-5zM523 188h6v1h-6zM596 188h4v1h-4zM485 189h7v1h-7zM519 189h8v1h-8zM598 189h3v1h-3zM488 190h6v1h-6zM515 190h8v1h-8zM600 190h3v1h-3zM492 191h6v1h-6zM511 191h8v1h-8zM601 191h4v1h-4zM494 192h21v1h-21zM603 192h4v1h-4zM498 193h13v1h-13zM605 193h7v1h-7zM607 194h5v1h-5z" fill="#000"/>
<path d="M3 104h22v1h-22zM25 105h42v1h-42zM67 106h42v1h-42zM109 107h42v1h-42zM151 108h42v1h-42zM193 109h42v1h-42zM235 110h42v1h-42zM277 111h42v1h-42zM319 112h43v1h-43zM362 113h42v1h-42zM404 114h42v1h-42zM446 115h42v1h-42zM488 116h42v1h-42zM530 117h42v1h-42zM572 118h42v1h-42zM614 119h23v1h-23z" fill="#ff0000"/>
<path d="M107 106h6v1h-6zM113 107h10v1h-10zM123 108h11v1h-11zM134 109h11v1h-11zM145 110h10v1h-10zM155 111h11v1h-11zM166 112h10v1h-10zM176 113h11v1h-11zM187 114h11v1h-11zM198 115h10v1h-10zM208 116h11v1h-11zM219 117h10v1h-10zM229 118h11v1h-11zM240 119h10v1h-10zM250 120h11v1h-11zM261 121h11v1h-11zM272 122h10v1h-10zM282 123h11v1h-11zM293 124h10v1h-10zM303 125h11v1h-11zM314 126h11v1h-11zM325 127h10v1h-10zM335 128h11v1h-11zM346 129h10v1h-10zM356 130h11v1h-11zM367 131h11v1h-11zM378 132h10v1h-10zM388 133h11v1h-11zM399 134h10v1h-10zM409 135h11v1h-11zM420 136h10v1h-10zM430 137h11v1h-11zM441 138h11v1h-11zM452 139h10v1h-10zM462 140h11v1h-11zM473 141h10v1h-10zM483 142h11v1h-11zM494 143h11v1h-11zM505 144h10v1h-10zM515 145h11v1h-11zM526 146h10v1h-10zM536 147h11v1h-11zM547 148h11v1h-11zM558 149h10v1h-10zM568 150h11v1h-11zM579 151h10v1h-10zM589 152h11v1h-11zM600 153h10v1h-10zM610 154h11v1h-11zM621 155h11v1h-11zM632 156h5v1h-5z" fill="#ff0000"/>
<path d="M318 126h1v1h-1zM319 127h6v1h-6zM325 128h6v1h-6zM331 129h6v1h-6zM337 130h6v1h-6zM343 131h6v1h-6zM349 132h6v1h-6zM355 133h6v1h-6zM361 134h6v1h-6zM367 135h6v1h-6zM373 136h6v1h-6zM379 137h6v1h-6zM385 138h6v1h-6zM391 139h6v1h-6zM397 140h6v1h-6zM403 141h6v1h-6zM409 142h6v1h-6zM415 143h6v1h-6zM421 144h6v1h-6zM427 145h6v1h-6zM433 146h6v1h-6zM439 147h6v1h-6zM445 148h6v1h-6zM451 149h6v1h-6zM457 150h6v1h-6zM463 151h6v1h-6zM469 152h6v1h-6zM475 153h6v1h-6zM481 154h6v1h-6zM487 155h6v1h-6zM493 156h6v1h-6zM499 157h6v1h-6zM505 158h6v1h-6zM511 159h6v1h-6zM517 160h6v1h-6zM523 161h6v1h-6zM529 162h6v1h-6zM535 163h6v1h-6zM541 164h6v1h-6zM547 165h6v1h-6zM553 166h6v1h-6zM559 167h6v1h-6zM565 168h6v1h-6zM571 169h6v1h-6zM577 170h6v1h-6zM583 171h6v1h-6zM589 172h6v1h-6zM595 173h6v1h-6zM601 174h6v1h-6zM607 175h6v1h-6zM613 176h6v1h-6zM619 177h6v1h-6zM625 178h6v1h-6zM631 179h6v1h-6z" fill="#ff0000"/>
<path d="M3 223h46v1h-46zM49 224h90v1h-90zM139 225h91v1h-91zM230 226h90v1h-90zM320 227h91v1h-91zM411 228h91v1h-91zM502 229h90v1h-90zM592 230h45v1h-45z" fill="#008000"/>
<path d="M625 211h12v1h-12zM604 212h21v1h-21zM582 213h22v1h-22zM560 214h22v1h-22zM538 215h22v1h-22zM516 216h22v1h-22zM495 217h21v1h-21zM473 218h22v1h-22zM451 219h22v1h-22zM429 220h22v1h-22zM407 221h22v1h-22zM385 222h22v1h-22zM364 223h21v1h-21zM342 224h22v1h-22zM320 225h22v1h-22zM298 226h22v1h-22zM276 227h22v1h-22zM254 228h22v1h-22zM233 229h21v1h-21zM211 230h22v1h-22zM189 231h22v1h-22zM167 232h22v1h-22zM145 233h22v1h-22zM124 234h21v1h-21zM102 235h22v1h-22zM80 236h22v1h-22zM58 237h22v1h-22zM36 238h22v1h-22zM14 239h22v1h-22zM3 240h11v1h-11z" fill="#008000"/>
<rect x="3" y="151" width="635" height="2" fill="#ff0000"/>
<rect x="3" y="178" width="635" height="2" fill="#ff0000"/>
<rect x="3" y="198" width="635" height="2" fill="#ff0000"/>
<rect x="3" y="237" width="635" height="2" fill="#008000"/>
<rect x="3" y="251" width="635" height="2" fill="#008000"/>
<text x="7.5" y="348" textLength="41" lengthAdjust="spacingAndGlyphs">RSI(21)</text>
<text x="53" y="348" textLength="45" lengthAdjust="spacingAndGlyphs">40.7802</text>
<text x="107" y="348" textLength="47" lengthAdjust="spacingAndGlyphs">-&gt;MA(9)</text>
<text x="158" y="348" textLength="45" lengthAdjust="spacingAndGlyphs">41.7741</text>
<text x="7.5" y="414" textLength="70.3" lengthAdjust="spacingAndGlyphs">Stoch(5,3,3)</text>
<text x="82.2" y="414" textLength="44.8" lengthAdjust="spacingAndGlyphs">42.1634</text>
<text x="132.4" y="414" textLength="44.8" lengthAdjust="spacingAndGlyphs">25.5374</text>
<text x="7.5" y="495" textLength="83.7" lengthAdjust="spacingAndGlyphs">MACD(12,26,9)</text>
<text x="96.5" y="495" textLength="55.7" lengthAdjust="spacingAndGlyphs">-0.000879</text>
<text x="157.8" y="495" textLength="55.7" lengthAdjust="spacingAndGlyphs">-0.000472</text>
<path d="M63 351h1v1h-1zM103 351h1v1h-1zM62 352h1v1h-1zM64 352h1v1h-1zM101 352h2v1h-2zM104 352h1v1h-1zM60 353h2v1h-2zM65 353h1v1h-1zM96 353h5v1h-5zM104 353h1v1h-1zM58 354h2v1h-2zM66 354h1v1h-1zM82 354h14v1h-14zM105 354h1v1h-1zM315 354h1v1h-1zM55 355h3v1h-3zM67 355h1v1h-1zM78 355h4v1h-4zM105 355h1v1h-1zM313 355h2v1h-2zM316 355h1v1h-1zM53 356h2v1h-2zM67 356h1v1h-1zM76 356h2v1h-2zM106 356h1v1h-1zM311 356h2v1h-2zM317 356h1v1h-1zM9 357h5v1h-5zM47 357h6v1h-6zM68 357h2v1h-2zM75 357h1v1h-1zM106 357h1v1h-1zM309 357h2v1h-2zM318 357h1v1h-1zM7 358h2v1h-2zM14 358h4v1h-4zM46 358h1v1h-1zM70 358h1v1h-1zM73 358h2v1h-2zM106 358h1v1h-1zM305 358h4v1h-4zM319 358h1v1h-1zM5 359h2v1h-2zM18 359h2v1h-2zM44 359h2v1h-2zM71 359h2v1h-2zM107 359h1v1h-1zM115 359h1v1h-1zM300 359h5v1h-5zM320 359h1v1h-1zM3 360h2v1h-2zM20 360h2v1h-2zM40 360h4v1h-4zM107 360h1v1h-1zM113 360h2v1h-2zM116 360h2v1h-2zM299 360h1v1h-1zM321 360h1v1h-1zM528 360h2v1h-2zM539 360h2v1h-2zM22 361h2v1h-2zM33 361h7v1h-7zM108 361h1v1h-1zM110 361h3v1h-3zM118 361h1v1h-1zM298 361h1v1h-1zM322 361h1v1h-1zM526 361h2v1h-2zM530 361h9v1h-9zM541 361h2v1h-2zM560 361h2v1h-2zM570 361h2v1h-2zM24 362h9v1h-9zM108 362h2v1h-2zM119 362h1v1h-1zM297 362h1v1h-1zM323 362h2v1h-2zM524 362h2v1h-2zM543 362h7v1h-7zM558 362h2v1h-2zM562 362h8v1h-8zM572 362h2v1h-2zM120 363h1v1h-1zM296 363h1v1h-1zM325 363h1v1h-1zM398 363h4v1h-4zM405 363h14v1h-14zM512 363h12v1h-12zM550 363h2v1h-2zM556 363h2v1h-2zM574 363h2v1h-2zM121 364h1v1h-1zM187 364h3v1h-3zM294 364h2v1h-2zM326 364h2v1h-2zM383 364h5v1h-5zM395 364h3v1h-3zM402 364h3v1h-3zM419 364h4v1h-4zM451 364h3v1h-3zM509 364h3v1h-3zM552 364h4v1h-4zM576 364h1v1h-1zM122 365h2v1h-2zM134 365h3v1h-3zM157 365h9v1h-9zM173 365h14v1h-14zM190 365h1v1h-1zM286 365h8v1h-8zM328 365h1v1h-1zM379 365h4v1h-4zM388 365h7v1h-7zM423 365h2v1h-2zM449 365h2v1h-2zM454 365h2v1h-2zM506 365h3v1h-3zM577 365h1v1h-1zM124 366h10v1h-10zM137 366h8v1h-8zM149 366h8v1h-8zM166 366h1v1h-1zM169 366h4v1h-4zM191 366h1v1h-1zM284 366h2v1h-2zM329 366h2v1h-2zM371 366h8v1h-8zM425 366h1v1h-1zM449 366h1v1h-1zM456 366h1v1h-1zM467 366h6v1h-6zM504 366h2v1h-2zM577 366h1v1h-1zM145 367h4v1h-4zM167 367h2v1h-2zM192 367h1v1h-1zM282 367h2v1h-2zM331 367h3v1h-3zM345 367h4v1h-4zM355 367h9v1h-9zM366 367h5v1h-5zM426 367h1v1h-1zM429 367h5v1h-5zM448 367h1v1h-1zM457 367h1v1h-1zM466 367h1v1h-1zM473 367h2v1h-2zM502 367h2v1h-2zM578 367h2v1h-2zM193 368h2v1h-2zM199 368h3v1h-3zM281 368h1v1h-1zM334 368h4v1h-4zM341 368h4v1h-4zM349 368h6v1h-6zM364 368h2v1h-2zM427 368h2v1h-2zM434 368h2v1h-2zM439 368h6v1h-6zM448 368h1v1h-1zM458 368h2v1h-2zM465 368h1v1h-1zM475 368h2v1h-2zM499 368h3v1h-3zM580 368h2v1h-2zM195 369h4v1h-4zM202 369h2v1h-2zM250 369h4v1h-4zM280 369h1v1h-1zM338 369h3v1h-3zM436 369h3v1h-3zM445 369h1v1h-1zM448 369h1v1h-1zM460 369h5v1h-5zM477 369h2v1h-2zM489 369h3v1h-3zM497 369h2v1h-2zM582 369h2v1h-2zM204 370h2v1h-2zM235 370h2v1h-2zM248 370h2v1h-2zM254 370h2v1h-2zM263 370h1v1h-1zM279 370h1v1h-1zM446 370h2v1h-2zM479 370h1v1h-1zM486 370h3v1h-3zM492 370h3v1h-3zM496 370h1v1h-1zM584 370h2v1h-2zM605 370h7v1h-7zM206 371h2v1h-2zM217 371h7v1h-7zM227 371h3v1h-3zM234 371h1v1h-1zM237 371h2v1h-2zM246 371h2v1h-2zM256 371h3v1h-3zM261 371h2v1h-2zM264 371h2v1h-2zM278 371h1v1h-1zM447 371h1v1h-1zM480 371h1v1h-1zM485 371h1v1h-1zM495 371h1v1h-1zM586 371h3v1h-3zM599 371h3v1h-3zM604 371h1v1h-1zM208 372h3v1h-3zM214 372h3v1h-3zM224 372h3v1h-3zM230 372h2v1h-2zM233 372h1v1h-1zM239 372h1v1h-1zM244 372h2v1h-2zM259 372h2v1h-2zM266 372h1v1h-1zM276 372h2v1h-2zM481 372h1v1h-1zM484 372h1v1h-1zM589 372h10v1h-10zM602 372h2v1h-2zM211 373h3v1h-3zM232 373h1v1h-1zM240 373h4v1h-4zM267 373h1v1h-1zM273 373h3v1h-3zM482 373h1v1h-1zM484 373h1v1h-1zM267 374h1v1h-1zM270 374h3v1h-3zM483 374h1v1h-1zM268 375h2v1h-2z" fill="#ff0000"/>
<path d="M91 354h12v1h-12zM82 355h9v1h-9zM103 355h5v1h-5zM62 356h8v1h-8zM74 356h8v1h-8zM108 356h5v1h-5zM61 357h1v1h-1zM70 357h4v1h-4zM113 357h4v1h-4zM54 358h7v1h-7zM117 358h2v1h-2zM12 359h11v1h-11zM49 359h5v1h-5zM119 359h4v1h-4zM3 360h9v1h-9zM23 360h26v1h-26zM123 360h4v1h-4zM317 360h10v1h-10zM127 361h2v1h-2zM314 361h3v1h-3zM327 361h4v1h-4zM129 362h4v1h-4zM312 362h2v1h-2zM331 362h3v1h-3zM537 362h15v1h-15zM559 362h21v1h-21zM133 363h5v1h-5zM308 363h4v1h-4zM334 363h2v1h-2zM528 363h9v1h-9zM552 363h7v1h-7zM580 363h2v1h-2zM138 364h5v1h-5zM304 364h4v1h-4zM336 364h2v1h-2zM410 364h18v1h-18zM524 364h4v1h-4zM582 364h2v1h-2zM143 365h49v1h-49zM302 365h2v1h-2zM338 365h9v1h-9zM397 365h13v1h-13zM428 365h5v1h-5zM522 365h2v1h-2zM584 365h2v1h-2zM192 366h3v1h-3zM298 366h4v1h-4zM347 366h15v1h-15zM377 366h20v1h-20zM433 366h5v1h-5zM513 366h9v1h-9zM586 366h4v1h-4zM195 367h8v1h-8zM293 367h5v1h-5zM362 367h15v1h-15zM438 367h5v1h-5zM450 367h30v1h-30zM509 367h4v1h-4zM590 367h4v1h-4zM203 368h5v1h-5zM289 368h4v1h-4zM443 368h7v1h-7zM480 368h2v1h-2zM507 368h2v1h-2zM594 368h2v1h-2zM208 369h5v1h-5zM287 369h2v1h-2zM482 369h25v1h-25zM596 369h3v1h-3zM213 370h5v1h-5zM283 370h4v1h-4zM599 370h12v1h-12zM218 371h20v1h-20zM247 371h16v1h-16zM278 371h5v1h-5zM611 371h1v1h-1zM238 372h9v1h-9zM263 372h15v1h-15z" fill="#00008b"/>
<path d="M313 402h2v1h-2zM311 403h2v1h-2zM315 403h1v1h-1zM310 404h1v1h-1zM316 404h1v1h-1zM309 405h1v1h-1zM316 405h1v1h-1zM308 406h1v1h-1zM317 406h1v1h-1zM307 407h1v1h-1zM317 407h1v1h-1zM415 407h1v1h-1zM306 408h1v1h-1zM317 408h1v1h-1zM383 408h1v1h-1zM413 408h3v1h-3zM511 408h2v1h-2zM306 409h1v1h-1zM318 409h1v1h-1zM382 409h1v1h-1zM384 409h1v1h-1zM412 409h1v1h-1zM416 409h1v1h-1zM509 409h2v1h-2zM513 409h2v1h-2zM305 410h1v1h-1zM318 410h1v1h-1zM381 410h1v1h-1zM384 410h1v1h-1zM407 410h5v1h-5zM416 410h1v1h-1zM508 410h1v1h-1zM515 410h1v1h-1zM568 410h3v1h-3zM47 411h1v1h-1zM184 411h2v1h-2zM304 411h1v1h-1zM318 411h1v1h-1zM380 411h1v1h-1zM385 411h1v1h-1zM407 411h1v1h-1zM417 411h1v1h-1zM507 411h1v1h-1zM516 411h1v1h-1zM567 411h1v1h-1zM571 411h1v1h-1zM46 412h1v1h-1zM48 412h1v1h-1zM182 412h2v1h-2zM186 412h1v1h-1zM303 412h1v1h-1zM319 412h1v1h-1zM378 412h2v1h-2zM385 412h1v1h-1zM406 412h1v1h-1zM417 412h1v1h-1zM507 412h1v1h-1zM516 412h1v1h-1zM566 412h1v1h-1zM571 412h1v1h-1zM46 413h1v1h-1zM48 413h1v1h-1zM181 413h1v1h-1zM187 413h1v1h-1zM302 413h1v1h-1zM319 413h1v1h-1zM377 413h1v1h-1zM386 413h1v1h-1zM406 413h1v1h-1zM418 413h1v1h-1zM507 413h1v1h-1zM517 413h1v1h-1zM566 413h1v1h-1zM572 413h1v1h-1zM45 414h1v1h-1zM49 414h1v1h-1zM180 414h1v1h-1zM188 414h1v1h-1zM287 414h3v1h-3zM301 414h1v1h-1zM319 414h1v1h-1zM376 414h1v1h-1zM386 414h1v1h-1zM405 414h1v1h-1zM418 414h1v1h-1zM506 414h1v1h-1zM518 414h1v1h-1zM565 414h1v1h-1zM573 414h1v1h-1zM45 415h1v1h-1zM50 415h1v1h-1zM63 415h1v1h-1zM91 415h13v1h-13zM179 415h1v1h-1zM188 415h1v1h-1zM287 415h1v1h-1zM290 415h2v1h-2zM300 415h1v1h-1zM319 415h1v1h-1zM375 415h1v1h-1zM387 415h1v1h-1zM405 415h1v1h-1zM418 415h1v1h-1zM506 415h1v1h-1zM519 415h2v1h-2zM533 415h5v1h-5zM565 415h1v1h-1zM573 415h1v1h-1zM45 416h1v1h-1zM51 416h1v1h-1zM63 416h3v1h-3zM89 416h2v1h-2zM103 416h1v1h-1zM179 416h1v1h-1zM188 416h1v1h-1zM286 416h1v1h-1zM292 416h3v1h-3zM298 416h2v1h-2zM320 416h1v1h-1zM375 416h1v1h-1zM387 416h1v1h-1zM405 416h1v1h-1zM418 416h1v1h-1zM506 416h1v1h-1zM521 416h1v1h-1zM526 416h7v1h-7zM538 416h2v1h-2zM565 416h1v1h-1zM574 416h1v1h-1zM15 417h1v1h-1zM44 417h1v1h-1zM52 417h1v1h-1zM62 417h1v1h-1zM66 417h1v1h-1zM88 417h1v1h-1zM103 417h1v1h-1zM178 417h1v1h-1zM189 417h1v1h-1zM286 417h1v1h-1zM295 417h3v1h-3zM320 417h1v1h-1zM374 417h1v1h-1zM388 417h1v1h-1zM404 417h1v1h-1zM419 417h1v1h-1zM506 417h1v1h-1zM522 417h1v1h-1zM524 417h2v1h-2zM540 417h1v1h-1zM564 417h1v1h-1zM574 417h1v1h-1zM14 418h2v1h-2zM44 418h1v1h-1zM53 418h1v1h-1zM62 418h1v1h-1zM67 418h1v1h-1zM88 418h1v1h-1zM104 418h1v1h-1zM178 418h1v1h-1zM189 418h1v1h-1zM285 418h1v1h-1zM320 418h1v1h-1zM359 418h5v1h-5zM374 418h1v1h-1zM388 418h1v1h-1zM404 418h1v1h-1zM419 418h1v1h-1zM506 418h1v1h-1zM523 418h1v1h-1zM541 418h1v1h-1zM564 418h1v1h-1zM574 418h1v1h-1zM14 419h1v1h-1zM16 419h1v1h-1zM43 419h1v1h-1zM54 419h1v1h-1zM61 419h1v1h-1zM67 419h1v1h-1zM87 419h1v1h-1zM104 419h1v1h-1zM178 419h1v1h-1zM189 419h1v1h-1zM285 419h1v1h-1zM320 419h1v1h-1zM359 419h1v1h-1zM364 419h1v1h-1zM374 419h1v1h-1zM389 419h1v1h-1zM404 419h1v1h-1zM419 419h1v1h-1zM506 419h1v1h-1zM542 419h1v1h-1zM564 419h1v1h-1zM575 419h1v1h-1zM13 420h1v1h-1zM16 420h1v1h-1zM43 420h1v1h-1zM55 420h1v1h-1zM61 420h1v1h-1zM68 420h1v1h-1zM87 420h1v1h-1zM104 420h1v1h-1zM178 420h1v1h-1zM189 420h1v1h-1zM285 420h1v1h-1zM320 420h1v1h-1zM358 420h1v1h-1zM365 420h1v1h-1zM374 420h1v1h-1zM389 420h1v1h-1zM404 420h1v1h-1zM419 420h1v1h-1zM505 420h1v1h-1zM543 420h1v1h-1zM563 420h1v1h-1zM575 420h1v1h-1zM13 421h1v1h-1zM17 421h1v1h-1zM43 421h1v1h-1zM56 421h1v1h-1zM60 421h1v1h-1zM69 421h1v1h-1zM86 421h1v1h-1zM104 421h1v1h-1zM163 421h1v1h-1zM177 421h1v1h-1zM190 421h1v1h-1zM284 421h1v1h-1zM321 421h1v1h-1zM358 421h1v1h-1zM366 421h1v1h-1zM373 421h1v1h-1zM389 421h1v1h-1zM403 421h1v1h-1zM420 421h1v1h-1zM505 421h1v1h-1zM543 421h1v1h-1zM563 421h1v1h-1zM575 421h1v1h-1zM11 422h2v1h-2zM17 422h1v1h-1zM42 422h1v1h-1zM57 422h1v1h-1zM60 422h1v1h-1zM69 422h1v1h-1zM86 422h1v1h-1zM104 422h1v1h-1zM163 422h2v1h-2zM177 422h1v1h-1zM190 422h1v1h-1zM284 422h1v1h-1zM321 422h1v1h-1zM357 422h1v1h-1zM367 422h1v1h-1zM373 422h1v1h-1zM390 422h1v1h-1zM403 422h1v1h-1zM420 422h1v1h-1zM505 422h1v1h-1zM544 422h1v1h-1zM563 422h1v1h-1zM575 422h1v1h-1zM9 423h2v1h-2zM18 423h1v1h-1zM42 423h1v1h-1zM58 423h2v1h-2zM69 423h1v1h-1zM85 423h1v1h-1zM105 423h1v1h-1zM162 423h1v1h-1zM164 423h1v1h-1zM177 423h1v1h-1zM190 423h1v1h-1zM284 423h1v1h-1zM321 423h1v1h-1zM357 423h1v1h-1zM368 423h1v1h-1zM373 423h1v1h-1zM390 423h1v1h-1zM403 423h1v1h-1zM420 423h1v1h-1zM456 423h1v1h-1zM505 423h1v1h-1zM544 423h1v1h-1zM562 423h1v1h-1zM576 423h1v1h-1zM8 424h1v1h-1zM18 424h1v1h-1zM41 424h1v1h-1zM59 424h1v1h-1zM70 424h1v1h-1zM85 424h1v1h-1zM105 424h1v1h-1zM162 424h1v1h-1zM165 424h1v1h-1zM177 424h1v1h-1zM190 424h1v1h-1zM283 424h1v1h-1zM321 424h1v1h-1zM356 424h1v1h-1zM368 424h1v1h-1zM372 424h1v1h-1zM390 424h1v1h-1zM402 424h1v1h-1zM420 424h1v1h-1zM455 424h1v1h-1zM457 424h2v1h-2zM505 424h1v1h-1zM545 424h1v1h-1zM562 424h1v1h-1zM576 424h1v1h-1zM7 425h1v1h-1zM18 425h1v1h-1zM41 425h1v1h-1zM70 425h1v1h-1zM85 425h1v1h-1zM105 425h1v1h-1zM162 425h1v1h-1zM165 425h1v1h-1zM176 425h1v1h-1zM191 425h1v1h-1zM283 425h1v1h-1zM321 425h1v1h-1zM356 425h1v1h-1zM369 425h1v1h-1zM372 425h1v1h-1zM391 425h1v1h-1zM402 425h1v1h-1zM420 425h1v1h-1zM455 425h1v1h-1zM459 425h1v1h-1zM504 425h1v1h-1zM545 425h1v1h-1zM562 425h1v1h-1zM576 425h1v1h-1zM5 426h2v1h-2zM18 426h1v1h-1zM40 426h1v1h-1zM70 426h1v1h-1zM84 426h1v1h-1zM105 426h1v1h-1zM161 426h1v1h-1zM166 426h1v1h-1zM176 426h1v1h-1zM191 426h1v1h-1zM283 426h1v1h-1zM321 426h1v1h-1zM356 426h1v1h-1zM370 426h1v1h-1zM372 426h1v1h-1zM391 426h1v1h-1zM402 426h1v1h-1zM421 426h1v1h-1zM454 426h1v1h-1zM459 426h1v1h-1zM504 426h1v1h-1zM545 426h1v1h-1zM561 426h1v1h-1zM576 426h1v1h-1zM4 427h1v1h-1zM19 427h1v1h-1zM40 427h1v1h-1zM70 427h1v1h-1zM84 427h1v1h-1zM105 427h1v1h-1zM161 427h1v1h-1zM167 427h1v1h-1zM176 427h1v1h-1zM191 427h1v1h-1zM283 427h1v1h-1zM322 427h1v1h-1zM355 427h1v1h-1zM370 427h2v1h-2zM392 427h1v1h-1zM401 427h1v1h-1zM421 427h1v1h-1zM454 427h1v1h-1zM459 427h1v1h-1zM504 427h1v1h-1zM546 427h1v1h-1zM561 427h1v1h-1zM577 427h1v1h-1zM3 428h1v1h-1zM19 428h1v1h-1zM39 428h1v1h-1zM71 428h1v1h-1zM84 428h1v1h-1zM105 428h1v1h-1zM161 428h1v1h-1zM167 428h1v1h-1zM176 428h1v1h-1zM191 428h1v1h-1zM282 428h1v1h-1zM322 428h1v1h-1zM355 428h1v1h-1zM371 428h1v1h-1zM392 428h1v1h-1zM401 428h1v1h-1zM421 428h1v1h-1zM454 428h1v1h-1zM460 428h1v1h-1zM504 428h1v1h-1zM546 428h1v1h-1zM560 428h1v1h-1zM577 428h1v1h-1zM19 429h1v1h-1zM39 429h1v1h-1zM71 429h1v1h-1zM83 429h1v1h-1zM106 429h1v1h-1zM160 429h1v1h-1zM168 429h1v1h-1zM175 429h1v1h-1zM191 429h1v1h-1zM282 429h1v1h-1zM322 429h1v1h-1zM355 429h1v1h-1zM392 429h1v1h-1zM401 429h1v1h-1zM421 429h1v1h-1zM454 429h1v1h-1zM460 429h1v1h-1zM504 429h1v1h-1zM546 429h1v1h-1zM560 429h1v1h-1zM577 429h1v1h-1zM19 430h1v1h-1zM38 430h1v1h-1zM71 430h1v1h-1zM83 430h1v1h-1zM106 430h1v1h-1zM160 430h1v1h-1zM168 430h1v1h-1zM175 430h1v1h-1zM192 430h1v1h-1zM282 430h1v1h-1zM322 430h1v1h-1zM355 430h1v1h-1zM393 430h1v1h-1zM400 430h1v1h-1zM421 430h1v1h-1zM453 430h1v1h-1zM460 430h1v1h-1zM504 430h1v1h-1zM546 430h1v1h-1zM560 430h1v1h-1zM577 430h1v1h-1zM20 431h1v1h-1zM38 431h1v1h-1zM71 431h1v1h-1zM83 431h1v1h-1zM106 431h1v1h-1zM160 431h1v1h-1zM169 431h1v1h-1zM174 431h1v1h-1zM192 431h1v1h-1zM282 431h1v1h-1zM322 431h1v1h-1zM354 431h1v1h-1zM393 431h1v1h-1zM400 431h1v1h-1zM422 431h1v1h-1zM453 431h1v1h-1zM460 431h1v1h-1zM503 431h1v1h-1zM547 431h1v1h-1zM559 431h1v1h-1zM577 431h1v1h-1zM20 432h1v1h-1zM38 432h1v1h-1zM71 432h1v1h-1zM83 432h1v1h-1zM106 432h1v1h-1zM159 432h1v1h-1zM170 432h1v1h-1zM172 432h2v1h-2zM192 432h1v1h-1zM282 432h1v1h-1zM322 432h1v1h-1zM354 432h1v1h-1zM393 432h1v1h-1zM399 432h1v1h-1zM422 432h1v1h-1zM453 432h1v1h-1zM461 432h1v1h-1zM503 432h1v1h-1zM547 432h1v1h-1zM559 432h1v1h-1zM578 432h1v1h-1zM20 433h1v1h-1zM38 433h1v1h-1zM72 433h1v1h-1zM82 433h1v1h-1zM106 433h1v1h-1zM159 433h1v1h-1zM171 433h1v1h-1zM192 433h1v1h-1zM281 433h1v1h-1zM323 433h1v1h-1zM354 433h1v1h-1zM394 433h1v1h-1zM399 433h1v1h-1zM422 433h1v1h-1zM453 433h1v1h-1zM461 433h1v1h-1zM503 433h1v1h-1zM547 433h1v1h-1zM559 433h1v1h-1zM578 433h1v1h-1zM20 434h1v1h-1zM37 434h1v1h-1zM72 434h1v1h-1zM82 434h1v1h-1zM106 434h1v1h-1zM159 434h1v1h-1zM192 434h1v1h-1zM281 434h1v1h-1zM323 434h1v1h-1zM353 434h1v1h-1zM394 434h1v1h-1zM398 434h1v1h-1zM422 434h1v1h-1zM452 434h1v1h-1zM461 434h1v1h-1zM503 434h1v1h-1zM547 434h1v1h-1zM558 434h1v1h-1zM578 434h1v1h-1zM21 435h1v1h-1zM37 435h1v1h-1zM72 435h1v1h-1zM82 435h1v1h-1zM107 435h1v1h-1zM159 435h1v1h-1zM192 435h1v1h-1zM281 435h1v1h-1zM323 435h1v1h-1zM353 435h1v1h-1zM394 435h1v1h-1zM397 435h1v1h-1zM422 435h1v1h-1zM452 435h1v1h-1zM461 435h1v1h-1zM502 435h1v1h-1zM548 435h1v1h-1zM558 435h1v1h-1zM578 435h1v1h-1zM21 436h1v1h-1zM37 436h1v1h-1zM72 436h1v1h-1zM82 436h1v1h-1zM107 436h1v1h-1zM158 436h1v1h-1zM193 436h1v1h-1zM235 436h1v1h-1zM281 436h1v1h-1zM323 436h1v1h-1zM353 436h1v1h-1zM395 436h2v1h-2zM423 436h1v1h-1zM452 436h1v1h-1zM461 436h1v1h-1zM502 436h1v1h-1zM548 436h1v1h-1zM558 436h1v1h-1zM578 436h1v1h-1zM21 437h1v1h-1zM37 437h1v1h-1zM72 437h1v1h-1zM82 437h1v1h-1zM107 437h1v1h-1zM158 437h1v1h-1zM193 437h1v1h-1zM235 437h1v1h-1zM254 437h2v1h-2zM281 437h1v1h-1zM323 437h1v1h-1zM353 437h1v1h-1zM395 437h1v1h-1zM423 437h1v1h-1zM452 437h1v1h-1zM462 437h1v1h-1zM501 437h1v1h-1zM548 437h1v1h-1zM558 437h1v1h-1zM578 437h1v1h-1zM21 438h1v1h-1zM36 438h1v1h-1zM73 438h1v1h-1zM81 438h1v1h-1zM107 438h1v1h-1zM158 438h1v1h-1zM193 438h1v1h-1zM235 438h2v1h-2zM252 438h2v1h-2zM256 438h1v1h-1zM281 438h1v1h-1zM323 438h1v1h-1zM352 438h1v1h-1zM423 438h1v1h-1zM451 438h1v1h-1zM462 438h1v1h-1zM501 438h1v1h-1zM548 438h1v1h-1zM557 438h1v1h-1zM579 438h1v1h-1zM22 439h1v1h-1zM36 439h1v1h-1zM73 439h1v1h-1zM81 439h1v1h-1zM108 439h1v1h-1zM157 439h1v1h-1zM193 439h1v1h-1zM235 439h2v1h-2zM252 439h1v1h-1zM257 439h1v1h-1zM280 439h1v1h-1zM323 439h1v1h-1zM352 439h1v1h-1zM423 439h1v1h-1zM451 439h1v1h-1zM462 439h1v1h-1zM500 439h1v1h-1zM549 439h1v1h-1zM557 439h1v1h-1zM579 439h1v1h-1zM22 440h1v1h-1zM36 440h1v1h-1zM73 440h1v1h-1zM81 440h1v1h-1zM108 440h1v1h-1zM157 440h1v1h-1zM193 440h1v1h-1zM234 440h1v1h-1zM236 440h1v1h-1zM251 440h1v1h-1zM258 440h1v1h-1zM280 440h1v1h-1zM324 440h1v1h-1zM352 440h1v1h-1zM423 440h1v1h-1zM451 440h1v1h-1zM462 440h1v1h-1zM473 440h3v1h-3zM500 440h1v1h-1zM549 440h1v1h-1zM557 440h1v1h-1zM579 440h1v1h-1zM22 441h1v1h-1zM36 441h1v1h-1zM73 441h1v1h-1zM80 441h1v1h-1zM108 441h1v1h-1zM157 441h1v1h-1zM193 441h1v1h-1zM234 441h1v1h-1zM237 441h1v1h-1zM251 441h1v1h-1zM258 441h1v1h-1zM280 441h1v1h-1zM324 441h1v1h-1zM352 441h1v1h-1zM423 441h1v1h-1zM451 441h1v1h-1zM463 441h1v1h-1zM471 441h2v1h-2zM476 441h1v1h-1zM499 441h1v1h-1zM549 441h1v1h-1zM557 441h1v1h-1zM579 441h1v1h-1zM22 442h1v1h-1zM35 442h1v1h-1zM73 442h1v1h-1zM80 442h1v1h-1zM109 442h1v1h-1zM157 442h1v1h-1zM194 442h1v1h-1zM234 442h1v1h-1zM237 442h1v1h-1zM250 442h1v1h-1zM259 442h1v1h-1zM280 442h1v1h-1zM324 442h1v1h-1zM352 442h1v1h-1zM424 442h1v1h-1zM451 442h1v1h-1zM463 442h1v1h-1zM471 442h1v1h-1zM476 442h1v1h-1zM498 442h1v1h-1zM550 442h1v1h-1zM557 442h1v1h-1zM579 442h1v1h-1zM23 443h1v1h-1zM35 443h1v1h-1zM74 443h1v1h-1zM79 443h1v1h-1zM109 443h1v1h-1zM156 443h1v1h-1zM194 443h1v1h-1zM234 443h1v1h-1zM237 443h1v1h-1zM250 443h1v1h-1zM260 443h1v1h-1zM280 443h1v1h-1zM324 443h1v1h-1zM351 443h1v1h-1zM424 443h1v1h-1zM450 443h1v1h-1zM463 443h1v1h-1zM470 443h1v1h-1zM477 443h1v1h-1zM497 443h1v1h-1zM550 443h1v1h-1zM556 443h1v1h-1zM579 443h1v1h-1zM23 444h1v1h-1zM35 444h1v1h-1zM74 444h1v1h-1zM79 444h1v1h-1zM110 444h1v1h-1zM156 444h1v1h-1zM194 444h1v1h-1zM234 444h1v1h-1zM238 444h1v1h-1zM250 444h1v1h-1zM261 444h2v1h-2zM279 444h1v1h-1zM324 444h1v1h-1zM351 444h1v1h-1zM424 444h1v1h-1zM450 444h1v1h-1zM464 444h1v1h-1zM470 444h1v1h-1zM477 444h1v1h-1zM496 444h1v1h-1zM550 444h1v1h-1zM556 444h1v1h-1zM580 444h1v1h-1zM23 445h1v1h-1zM34 445h1v1h-1zM74 445h1v1h-1zM78 445h1v1h-1zM110 445h1v1h-1zM156 445h1v1h-1zM194 445h1v1h-1zM234 445h1v1h-1zM238 445h1v1h-1zM249 445h1v1h-1zM263 445h1v1h-1zM279 445h1v1h-1zM324 445h1v1h-1zM351 445h1v1h-1zM424 445h1v1h-1zM450 445h1v1h-1zM464 445h1v1h-1zM469 445h1v1h-1zM477 445h1v1h-1zM495 445h1v1h-1zM550 445h1v1h-1zM556 445h1v1h-1zM580 445h1v1h-1zM611 445h1v1h-1zM23 446h1v1h-1zM34 446h1v1h-1zM74 446h1v1h-1zM78 446h1v1h-1zM110 446h1v1h-1zM155 446h1v1h-1zM194 446h1v1h-1zM233 446h1v1h-1zM238 446h1v1h-1zM249 446h1v1h-1zM263 446h1v1h-1zM279 446h1v1h-1zM325 446h1v1h-1zM351 446h1v1h-1zM424 446h1v1h-1zM450 446h1v1h-1zM465 446h1v1h-1zM469 446h1v1h-1zM478 446h1v1h-1zM494 446h1v1h-1zM551 446h1v1h-1zM556 446h1v1h-1zM580 446h1v1h-1zM611 446h1v1h-1zM24 447h1v1h-1zM34 447h1v1h-1zM75 447h1v1h-1zM77 447h1v1h-1zM111 447h1v1h-1zM154 447h1v1h-1zM195 447h1v1h-1zM233 447h1v1h-1zM238 447h1v1h-1zM249 447h1v1h-1zM264 447h1v1h-1zM279 447h1v1h-1zM325 447h1v1h-1zM350 447h1v1h-1zM424 447h1v1h-1zM450 447h1v1h-1zM465 447h1v1h-1zM468 447h1v1h-1zM478 447h1v1h-1zM493 447h1v1h-1zM551 447h2v1h-2zM555 447h1v1h-1zM580 447h1v1h-1zM610 447h1v1h-1zM24 448h1v1h-1zM34 448h1v1h-1zM75 448h2v1h-2zM111 448h1v1h-1zM154 448h1v1h-1zM195 448h1v1h-1zM233 448h1v1h-1zM239 448h1v1h-1zM248 448h1v1h-1zM264 448h1v1h-1zM279 448h1v1h-1zM325 448h1v1h-1zM350 448h1v1h-1zM425 448h1v1h-1zM450 448h1v1h-1zM466 448h1v1h-1zM468 448h1v1h-1zM479 448h1v1h-1zM492 448h1v1h-1zM553 448h3v1h-3zM580 448h1v1h-1zM610 448h1v1h-1zM24 449h1v1h-1zM33 449h1v1h-1zM75 449h1v1h-1zM112 449h1v1h-1zM153 449h1v1h-1zM195 449h1v1h-1zM233 449h1v1h-1zM239 449h2v1h-2zM248 449h1v1h-1zM265 449h1v1h-1zM279 449h1v1h-1zM325 449h1v1h-1zM350 449h1v1h-1zM425 449h1v1h-1zM449 449h1v1h-1zM466 449h2v1h-2zM479 449h1v1h-1zM491 449h1v1h-1zM555 449h1v1h-1zM580 449h1v1h-1zM610 449h1v1h-1zM24 450h1v1h-1zM33 450h1v1h-1zM112 450h1v1h-1zM152 450h1v1h-1zM195 450h1v1h-1zM232 450h1v1h-1zM241 450h2v1h-2zM247 450h1v1h-1zM265 450h1v1h-1zM278 450h1v1h-1zM325 450h1v1h-1zM350 450h1v1h-1zM425 450h1v1h-1zM449 450h1v1h-1zM467 450h1v1h-1zM479 450h1v1h-1zM490 450h1v1h-1zM581 450h1v1h-1zM610 450h1v1h-1zM25 451h1v1h-1zM33 451h1v1h-1zM113 451h1v1h-1zM151 451h1v1h-1zM196 451h1v1h-1zM229 451h4v1h-4zM243 451h4v1h-4zM266 451h1v1h-1zM278 451h1v1h-1zM325 451h1v1h-1zM349 451h1v1h-1zM425 451h1v1h-1zM449 451h1v1h-1zM480 451h1v1h-1zM490 451h1v1h-1zM581 451h1v1h-1zM609 451h1v1h-1zM25 452h1v1h-1zM32 452h1v1h-1zM113 452h1v1h-1zM119 452h2v1h-2zM150 452h1v1h-1zM196 452h1v1h-1zM227 452h2v1h-2zM232 452h1v1h-1zM267 452h1v1h-1zM278 452h1v1h-1zM326 452h1v1h-1zM349 452h1v1h-1zM425 452h1v1h-1zM449 452h1v1h-1zM480 452h1v1h-1zM489 452h1v1h-1zM581 452h1v1h-1zM609 452h1v1h-1zM25 453h1v1h-1zM32 453h1v1h-1zM114 453h1v1h-1zM118 453h1v1h-1zM121 453h1v1h-1zM143 453h7v1h-7zM196 453h1v1h-1zM226 453h1v1h-1zM267 453h1v1h-1zM278 453h1v1h-1zM326 453h1v1h-1zM349 453h1v1h-1zM425 453h1v1h-1zM449 453h1v1h-1zM480 453h1v1h-1zM488 453h1v1h-1zM581 453h1v1h-1zM609 453h1v1h-1zM25 454h1v1h-1zM32 454h1v1h-1zM114 454h1v1h-1zM117 454h1v1h-1zM121 454h1v1h-1zM142 454h1v1h-1zM197 454h1v1h-1zM226 454h1v1h-1zM268 454h1v1h-1zM277 454h1v1h-1zM326 454h1v1h-1zM349 454h1v1h-1zM426 454h1v1h-1zM448 454h1v1h-1zM480 454h1v1h-1zM488 454h1v1h-1zM581 454h1v1h-1zM608 454h1v1h-1zM25 455h1v1h-1zM31 455h1v1h-1zM115 455h1v1h-1zM117 455h1v1h-1zM122 455h1v1h-1zM140 455h2v1h-2zM197 455h1v1h-1zM225 455h1v1h-1zM268 455h1v1h-1zM277 455h1v1h-1zM326 455h1v1h-1zM348 455h1v1h-1zM426 455h1v1h-1zM448 455h1v1h-1zM481 455h1v1h-1zM487 455h1v1h-1zM582 455h1v1h-1zM608 455h1v1h-1zM26 456h1v1h-1zM31 456h1v1h-1zM116 456h1v1h-1zM122 456h1v1h-1zM139 456h1v1h-1zM198 456h1v1h-1zM225 456h1v1h-1zM269 456h1v1h-1zM277 456h1v1h-1zM326 456h1v1h-1zM348 456h1v1h-1zM426 456h1v1h-1zM448 456h1v1h-1zM481 456h1v1h-1zM487 456h1v1h-1zM582 456h1v1h-1zM608 456h1v1h-1zM26 457h1v1h-1zM31 457h1v1h-1zM123 457h1v1h-1zM138 457h1v1h-1zM199 457h1v1h-1zM224 457h1v1h-1zM270 457h1v1h-1zM277 457h1v1h-1zM326 457h1v1h-1zM348 457h1v1h-1zM426 457h1v1h-1zM448 457h1v1h-1zM481 457h1v1h-1zM486 457h1v1h-1zM582 457h1v1h-1zM607 457h1v1h-1zM26 458h1v1h-1zM31 458h1v1h-1zM123 458h1v1h-1zM136 458h2v1h-2zM200 458h1v1h-1zM224 458h1v1h-1zM270 458h1v1h-1zM276 458h1v1h-1zM327 458h1v1h-1zM347 458h1v1h-1zM426 458h1v1h-1zM447 458h1v1h-1zM481 458h1v1h-1zM486 458h1v1h-1zM582 458h1v1h-1zM607 458h1v1h-1zM26 459h1v1h-1zM30 459h1v1h-1zM124 459h1v1h-1zM135 459h1v1h-1zM201 459h1v1h-1zM222 459h2v1h-2zM271 459h1v1h-1zM276 459h1v1h-1zM327 459h1v1h-1zM347 459h1v1h-1zM426 459h1v1h-1zM447 459h1v1h-1zM482 459h1v1h-1zM485 459h1v1h-1zM583 459h1v1h-1zM607 459h1v1h-1zM26 460h1v1h-1zM30 460h1v1h-1zM124 460h1v1h-1zM134 460h1v1h-1zM201 460h1v1h-1zM221 460h1v1h-1zM272 460h1v1h-1zM276 460h1v1h-1zM327 460h1v1h-1zM346 460h1v1h-1zM426 460h1v1h-1zM445 460h2v1h-2zM482 460h1v1h-1zM485 460h1v1h-1zM583 460h1v1h-1zM607 460h1v1h-1zM27 461h1v1h-1zM29 461h1v1h-1zM125 461h1v1h-1zM134 461h1v1h-1zM202 461h1v1h-1zM220 461h1v1h-1zM273 461h1v1h-1zM276 461h1v1h-1zM327 461h1v1h-1zM346 461h1v1h-1zM427 461h1v1h-1zM443 461h2v1h-2zM482 461h1v1h-1zM484 461h1v1h-1zM584 461h1v1h-1zM606 461h1v1h-1zM27 462h2v1h-2zM125 462h1v1h-1zM133 462h1v1h-1zM203 462h2v1h-2zM219 462h1v1h-1zM273 462h1v1h-1zM275 462h1v1h-1zM327 462h1v1h-1zM345 462h1v1h-1zM427 462h1v1h-1zM441 462h2v1h-2zM482 462h1v1h-1zM484 462h1v1h-1zM585 462h1v1h-1zM606 462h1v1h-1zM27 463h1v1h-1zM126 463h1v1h-1zM133 463h1v1h-1zM205 463h2v1h-2zM218 463h1v1h-1zM274 463h2v1h-2zM328 463h1v1h-1zM345 463h1v1h-1zM427 463h1v1h-1zM439 463h2v1h-2zM483 463h1v1h-1zM586 463h1v1h-1zM606 463h1v1h-1zM126 464h1v1h-1zM132 464h1v1h-1zM207 464h1v1h-1zM217 464h1v1h-1zM275 464h1v1h-1zM328 464h1v1h-1zM344 464h1v1h-1zM427 464h8v1h-8zM437 464h2v1h-2zM483 464h1v1h-1zM587 464h1v1h-1zM605 464h1v1h-1zM127 465h2v1h-2zM132 465h1v1h-1zM208 465h1v1h-1zM216 465h1v1h-1zM328 465h1v1h-1zM344 465h1v1h-1zM435 465h2v1h-2zM588 465h1v1h-1zM605 465h1v1h-1zM129 466h3v1h-3zM209 466h1v1h-1zM216 466h1v1h-1zM328 466h1v1h-1zM343 466h1v1h-1zM589 466h1v1h-1zM605 466h1v1h-1zM131 467h1v1h-1zM210 467h1v1h-1zM214 467h2v1h-2zM329 467h1v1h-1zM343 467h1v1h-1zM590 467h1v1h-1zM605 467h1v1h-1zM211 468h3v1h-3zM329 468h1v1h-1zM342 468h1v1h-1zM591 468h1v1h-1zM604 468h1v1h-1zM329 469h1v1h-1zM342 469h1v1h-1zM592 469h1v1h-1zM604 469h1v1h-1zM330 470h1v1h-1zM341 470h1v1h-1zM593 470h1v1h-1zM603 470h1v1h-1zM330 471h1v1h-1zM341 471h1v1h-1zM594 471h3v1h-3zM602 471h1v1h-1zM331 472h1v1h-1zM340 472h1v1h-1zM597 472h3v1h-3zM601 472h1v1h-1zM331 473h1v1h-1zM340 473h1v1h-1zM600 473h1v1h-1zM332 474h8v1h-8z" fill="#20b2aa"/>
<path d="M316 404h1v1h-1zM315 405h1v1h-1zM317 405h1v1h-1zM311 407h1v1h-1zM309 408h2v1h-2zM320 409h1v1h-1zM320 410h1v1h-1zM416 410h2v1h-2zM321 411h1v1h-1zM384 411h2v1h-2zM418 411h1v1h-1zM518 411h2v1h-2zM306 412h1v1h-1zM383 412h1v1h-1zM412 412h1v1h-1zM514 412h1v1h-1zM520 412h1v1h-1zM305 413h1v1h-1zM389 413h1v1h-1zM411 413h1v1h-1zM513 413h1v1h-1zM99 414h1v1h-1zM186 414h2v1h-2zM304 414h1v1h-1zM390 414h1v1h-1zM411 414h1v1h-1zM512 414h1v1h-1zM571 414h1v1h-1zM52 415h2v1h-2zM97 415h2v1h-2zM188 415h1v1h-1zM322 415h1v1h-1zM390 415h1v1h-1zM420 415h1v1h-1zM524 415h1v1h-1zM570 415h1v1h-1zM575 415h1v1h-1zM54 416h1v1h-1zM103 416h1v1h-1zM294 416h1v1h-1zM299 416h2v1h-2zM322 416h1v1h-1zM379 416h1v1h-1zM421 416h1v1h-1zM525 416h2v1h-2zM536 416h3v1h-3zM569 416h1v1h-1zM575 416h1v1h-1zM104 417h1v1h-1zM292 417h2v1h-2zM298 417h1v1h-1zM323 417h1v1h-1zM378 417h1v1h-1zM421 417h1v1h-1zM530 417h3v1h-3zM542 417h1v1h-1zM576 417h1v1h-1zM58 418h1v1h-1zM104 418h1v1h-1zM182 418h1v1h-1zM191 418h1v1h-1zM377 418h1v1h-1zM409 418h1v1h-1zM510 418h1v1h-1zM543 418h1v1h-1zM48 419h1v1h-1zM59 419h1v1h-1zM66 419h1v1h-1zM93 419h1v1h-1zM182 419h1v1h-1zM191 419h1v1h-1zM392 419h1v1h-1zM408 419h1v1h-1zM510 419h1v1h-1zM544 419h1v1h-1zM3 420h2v1h-2zM16 420h1v1h-1zM48 420h1v1h-1zM60 420h1v1h-1zM64 420h2v1h-2zM92 420h1v1h-1zM181 420h1v1h-1zM192 420h1v1h-1zM366 420h2v1h-2zM392 420h1v1h-1zM408 420h1v1h-1zM510 420h1v1h-1zM567 420h1v1h-1zM5 421h1v1h-1zM15 421h1v1h-1zM17 421h1v1h-1zM47 421h1v1h-1zM70 421h1v1h-1zM91 421h1v1h-1zM290 421h1v1h-1zM323 421h1v1h-1zM365 421h1v1h-1zM373 421h1v1h-1zM393 421h1v1h-1zM423 421h1v1h-1zM567 421h1v1h-1zM577 421h1v1h-1zM70 422h1v1h-1zM106 422h1v1h-1zM289 422h1v1h-1zM324 422h1v1h-1zM371 422h2v1h-2zM423 422h1v1h-1zM566 422h1v1h-1zM578 422h1v1h-1zM9 423h1v1h-1zM11 423h1v1h-1zM71 423h1v1h-1zM107 423h1v1h-1zM289 423h1v1h-1zM324 423h1v1h-1zM423 423h1v1h-1zM547 423h1v1h-1zM578 423h1v1h-1zM10 424h1v1h-1zM107 424h1v1h-1zM179 424h1v1h-1zM193 424h1v1h-1zM362 424h1v1h-1zM406 424h1v1h-1zM508 424h1v1h-1zM547 424h1v1h-1zM19 425h1v1h-1zM45 425h1v1h-1zM89 425h1v1h-1zM178 425h1v1h-1zM193 425h1v1h-1zM362 425h1v1h-1zM395 425h1v1h-1zM405 425h1v1h-1zM508 425h1v1h-1zM548 425h1v1h-1zM20 426h1v1h-1zM45 426h1v1h-1zM89 426h1v1h-1zM178 426h1v1h-1zM193 426h1v1h-1zM361 426h1v1h-1zM396 426h1v1h-1zM405 426h1v1h-1zM507 426h1v1h-1zM565 426h1v1h-1zM20 427h1v1h-1zM44 427h1v1h-1zM73 427h1v1h-1zM88 427h1v1h-1zM168 427h1v1h-1zM288 427h1v1h-1zM325 427h1v1h-1zM397 427h1v1h-1zM424 427h1v1h-1zM565 427h1v1h-1zM579 427h1v1h-1zM73 428h1v1h-1zM109 428h1v1h-1zM167 428h1v1h-1zM169 428h1v1h-1zM287 428h1v1h-1zM325 428h1v1h-1zM424 428h1v1h-1zM564 428h1v1h-1zM579 428h1v1h-1zM73 429h1v1h-1zM109 429h1v1h-1zM287 429h1v1h-1zM325 429h1v1h-1zM425 429h1v1h-1zM460 429h2v1h-2zM550 429h1v1h-1zM580 429h1v1h-1zM109 430h1v1h-1zM173 430h1v1h-1zM175 430h1v1h-1zM195 430h1v1h-1zM360 430h1v1h-1zM401 430h2v1h-2zM459 430h1v1h-1zM506 430h1v1h-1zM550 430h1v1h-1zM22 431h1v1h-1zM43 431h1v1h-1zM86 431h1v1h-1zM174 431h1v1h-1zM195 431h1v1h-1zM359 431h1v1h-1zM400 431h1v1h-1zM506 431h1v1h-1zM550 431h1v1h-1zM22 432h1v1h-1zM42 432h1v1h-1zM86 432h1v1h-1zM164 432h1v1h-1zM195 432h1v1h-1zM359 432h1v1h-1zM464 432h1v1h-1zM506 432h1v1h-1zM563 432h1v1h-1zM22 433h1v1h-1zM42 433h1v1h-1zM75 433h1v1h-1zM85 433h1v1h-1zM163 433h1v1h-1zM286 433h1v1h-1zM326 433h1v1h-1zM426 433h1v1h-1zM464 433h1v1h-1zM563 433h1v1h-1zM581 433h1v1h-1zM75 434h1v1h-1zM111 434h1v1h-1zM163 434h1v1h-1zM286 434h1v1h-1zM326 434h1v1h-1zM426 434h1v1h-1zM457 434h1v1h-1zM464 434h1v1h-1zM562 434h1v1h-1zM581 434h1v1h-1zM76 435h1v1h-1zM111 435h1v1h-1zM285 435h1v1h-1zM326 435h1v1h-1zM426 435h1v1h-1zM457 435h1v1h-1zM552 435h1v1h-1zM581 435h1v1h-1zM111 436h1v1h-1zM196 436h1v1h-1zM358 436h1v1h-1zM457 436h1v1h-1zM504 436h1v1h-1zM552 436h1v1h-1zM23 437h1v1h-1zM40 437h1v1h-1zM83 437h1v1h-1zM197 437h1v1h-1zM357 437h1v1h-1zM504 437h1v1h-1zM552 437h1v1h-1zM24 438h1v1h-1zM40 438h1v1h-1zM83 438h1v1h-1zM161 438h1v1h-1zM197 438h1v1h-1zM357 438h1v1h-1zM466 438h1v1h-1zM504 438h1v1h-1zM561 438h1v1h-1zM24 439h1v1h-1zM40 439h1v1h-1zM78 439h1v1h-1zM82 439h1v1h-1zM161 439h1v1h-1zM284 439h1v1h-1zM327 439h1v1h-1zM427 439h1v1h-1zM467 439h1v1h-1zM560 439h1v1h-1zM582 439h1v1h-1zM78 440h1v1h-1zM113 440h1v1h-1zM160 440h1v1h-1zM257 440h1v1h-1zM284 440h1v1h-1zM327 440h1v1h-1zM427 440h1v1h-1zM455 440h1v1h-1zM467 440h1v1h-1zM559 440h1v1h-1zM583 440h1v1h-1zM79 441h1v1h-1zM113 441h1v1h-1zM256 441h1v1h-1zM261 441h1v1h-1zM284 441h1v1h-1zM328 441h1v1h-1zM427 441h1v1h-1zM455 441h1v1h-1zM554 441h1v1h-1zM583 441h1v1h-1zM114 442h1v1h-1zM198 442h1v1h-1zM255 442h1v1h-1zM262 442h1v1h-1zM356 442h1v1h-1zM455 442h1v1h-1zM501 442h1v1h-1zM555 442h2v1h-2zM25 443h1v1h-1zM38 443h1v1h-1zM198 443h1v1h-1zM263 443h1v1h-1zM356 443h1v1h-1zM501 443h1v1h-1zM26 444h1v1h-1zM38 444h1v1h-1zM158 444h1v1h-1zM199 444h1v1h-1zM355 444h1v1h-1zM471 444h2v1h-2zM477 444h1v1h-1zM500 444h1v1h-1zM26 445h1v1h-1zM38 445h1v1h-1zM158 445h1v1h-1zM283 445h1v1h-1zM329 445h1v1h-1zM428 445h1v1h-1zM473 445h1v1h-1zM478 445h2v1h-2zM584 445h1v1h-1zM115 446h1v1h-1zM157 446h1v1h-1zM238 446h3v1h-3zM251 446h1v1h-1zM283 446h1v1h-1zM329 446h1v1h-1zM428 446h1v1h-1zM454 446h1v1h-1zM584 446h1v1h-1zM116 447h1v1h-1zM244 447h1v1h-1zM250 447h1v1h-1zM266 447h1v1h-1zM283 447h1v1h-1zM329 447h1v1h-1zM429 447h1v1h-1zM454 447h1v1h-1zM585 447h1v1h-1zM116 448h1v1h-1zM200 448h1v1h-1zM234 448h1v1h-1zM245 448h1v1h-1zM250 448h1v1h-1zM267 448h1v1h-1zM354 448h1v1h-1zM453 448h1v1h-1zM498 448h1v1h-1zM27 449h1v1h-1zM36 449h1v1h-1zM200 449h1v1h-1zM234 449h1v1h-1zM246 449h1v1h-1zM268 449h1v1h-1zM354 449h1v1h-1zM481 449h1v1h-1zM497 449h1v1h-1zM27 450h1v1h-1zM36 450h1v1h-1zM155 450h1v1h-1zM201 450h1v1h-1zM233 450h1v1h-1zM353 450h1v1h-1zM482 450h1v1h-1zM496 450h1v1h-1zM28 451h1v1h-1zM35 451h1v1h-1zM153 451h2v1h-2zM281 451h1v1h-1zM330 451h1v1h-1zM430 451h1v1h-1zM482 451h1v1h-1zM586 451h1v1h-1zM119 452h1v1h-1zM281 452h1v1h-1zM330 452h1v1h-1zM430 452h1v1h-1zM452 452h1v1h-1zM586 452h1v1h-1zM120 453h1v1h-1zM271 453h1v1h-1zM280 453h1v1h-1zM330 453h1v1h-1zM430 453h1v1h-1zM451 453h1v1h-1zM586 453h1v1h-1zM121 454h1v1h-1zM148 454h2v1h-2zM203 454h1v1h-1zM231 454h1v1h-1zM272 454h1v1h-1zM352 454h1v1h-1zM451 454h1v1h-1zM492 454h1v1h-1zM29 455h1v1h-1zM34 455h1v1h-1zM147 455h1v1h-1zM203 455h1v1h-1zM229 455h2v1h-2zM272 455h1v1h-1zM352 455h1v1h-1zM485 455h1v1h-1zM490 455h2v1h-2zM30 456h1v1h-1zM33 456h1v1h-1zM204 456h1v1h-1zM352 456h1v1h-1zM485 456h1v1h-1zM30 457h1v1h-1zM32 457h1v1h-1zM125 457h1v1h-1zM143 457h1v1h-1zM278 457h1v1h-1zM331 457h1v1h-1zM431 457h1v1h-1zM486 457h1v1h-1zM588 457h1v1h-1zM126 458h1v1h-1zM142 458h1v1h-1zM276 458h2v1h-2zM331 458h1v1h-1zM432 458h1v1h-1zM449 458h1v1h-1zM588 458h1v1h-1zM126 459h1v1h-1zM141 459h1v1h-1zM226 459h1v1h-1zM331 459h1v1h-1zM432 459h1v1h-1zM448 459h1v1h-1zM588 459h1v1h-1zM206 460h1v1h-1zM225 460h1v1h-1zM350 460h1v1h-1zM447 460h1v1h-1zM207 461h1v1h-1zM224 461h1v1h-1zM349 461h1v1h-1zM610 461h1v1h-1zM130 462h1v1h-1zM208 462h1v1h-1zM349 462h1v1h-1zM609 462h1v1h-1zM131 463h1v1h-1zM138 463h1v1h-1zM333 463h1v1h-1zM435 463h2v1h-2zM443 463h1v1h-1zM590 463h1v1h-1zM132 464h1v1h-1zM137 464h1v1h-1zM220 464h1v1h-1zM333 464h1v1h-1zM437 464h1v1h-1zM441 464h2v1h-2zM591 464h1v1h-1zM136 465h1v1h-1zM212 465h3v1h-3zM218 465h2v1h-2zM333 465h1v1h-1zM591 465h1v1h-1zM347 466h1v1h-1zM607 466h1v1h-1zM346 467h1v1h-1zM606 467h1v1h-1zM346 468h1v1h-1zM595 468h1v1h-1zM606 468h1v1h-1zM335 469h1v1h-1zM596 469h1v1h-1zM335 470h1v1h-1zM597 470h1v1h-1zM336 471h1v1h-1zM601 471h1v1h-1zM341 472h2v1h-2zM602 472h2v1h-2zM340 473h1v1h-1z" fill="#ff0000"/>
<rect x="3" y="499" width="1" height="14" fill="#0000ff"/>
<rect x="7" y="498" width="1" height="15" fill="#0000ff"/>
<rect x="11" y="497" width="1" height="16" fill="#0000ff"/>
<rect x="15" y="497" width="1" height="16" fill="#0000ff"/>
<rect x="19" y="497" width="1" height="16" fill="#0000ff"/>
<rect x="23" y="498" width="1" height="15" fill="#0000ff"/>
<rect x="27" y="500" width="1" height="13" fill="#0000ff"/>
<rect x="31" y="500" width="1" height="13" fill="#0000ff"/>
<rect x="35" y="501" width="1" height="12" fill="#0000ff"/>
<rect x="39" y="501" width="1" height="12" fill="#0000ff"/>
<rect x="43" y="501" width="1" height="12" fill="#0000ff"/>
<rect x="47" y="501" width="1" height="12" fill="#0000ff"/>
<rect x="51" y="500" width="1" height="13" fill="#0000ff"/>
<rect x="55" y="499" width="1" height="14" fill="#0000ff"/>
<rect x="59" y="495" width="1" height="18" fill="#0000ff"/>
<rect x="63" y="494" width="1" height="19" fill="#0000ff"/>
<rect x="67" y="494" width="1" height="19" fill="#0000ff"/>
<rect x="71" y="494" width="1" height="19" fill="#0000ff"/>
<rect x="75" y="495" width="1" height="18" fill="#0000ff"/>
<rect x="79" y="492" width="1" height="21" fill="#0000ff"/>
<rect x="83" y="491" width="1" height="22" fill="#0000ff"/>
<rect x="87" y="490" width="1" height="23" fill="#0000ff"/>
<rect x="91" y="488" width="1" height="25" fill="#0000ff"/>
<rect x="95" y="486" width="1" height="27" fill="#0000ff"/>
<rect x="99" y="485" width="1" height="28" fill="#0000ff"/>
<rect x="103" y="484" width="1" height="29" fill="#0000ff"/>
<rect x="107" y="486" width="1" height="27" fill="#0000ff"/>
<rect x="111" y="489" width="1" height="24" fill="#0000ff"/>
<rect x="115" y="491" width="1" height="22" fill="#0000ff"/>
<rect x="119" y="496" width="1" height="17" fill="#0000ff"/>
<rect x="123" y="501" width="1" height="12" fill="#0000ff"/>
<rect x="127" y="505" width="1" height="8" fill="#0000ff"/>
<rect x="131" y="508" width="1" height="5" fill="#0000ff"/>
<rect x="135" y="510" width="1" height="3" fill="#0000ff"/>
<rect x="139" y="512" width="1" height="1" fill="#0000ff"/>
<rect x="143" y="512" width="1" height="2" fill="#0000ff"/>
<rect x="147" y="512" width="1" height="4" fill="#0000ff"/>
<rect x="151" y="512" width="1" height="4" fill="#0000ff"/>
<rect x="155" y="512" width="1" height="4" fill="#0000ff"/>
<rect x="159" y="512" width="1" height="4" fill="#0000ff"/>
<rect x="163" y="512" width="1" height="4" fill="#0000ff"/>
<rect x="167" y="512" width="1" height="6" fill="#0000ff"/>
<rect x="171" y="512" width="1" height="6" fill="#0000ff"/>
<rect x="175" y="512" width="1" height="6" fill="#0000ff"/>
<rect x="179" y="512" width="1" height="6" fill="#0000ff"/>
<rect x="183" y="512" width="1" height="6" fill="#0000ff"/>
<rect x="187" y="512" width="1" height="6" fill="#0000ff"/>
<rect x="191" y="512" width="1" height="6" fill="#0000ff"/>
<rect x="195" y="512" width="1" height="6" fill="#0000ff"/>
<rect x="199" y="512" width="1" height="7" fill="#0000ff"/>
<rect x="203" y="512" width="1" height="7" fill="#0000ff"/>
<rect x="207" y="512" width="1" height="10" fill="#0000ff"/>
<rect x="211" y="512" width="1" height="12" fill="#0000ff"/>
<rect x="215" y="512" width="1" height="14" fill="#0000ff"/>
<rect x="219" y="512" width="1" height="15" fill="#0000ff"/>
<rect x="223" y="512" width="1" height="16" fill="#0000ff"/>
<rect x="227" y="512" width="1" height="16" fill="#0000ff"/>
<rect x="231" y="512" width="1" height="17" fill="#0000ff"/>
<rect x="235" y="512" width="1" height="17" fill="#0000ff"/>
<rect x="239" y="512" width="1" height="17" fill="#0000ff"/>
<rect x="243" y="512" width="1" height="19" fill="#0000ff"/>
<rect x="247" y="512" width="1" height="18" fill="#0000ff"/>
<rect x="251" y="512" width="1" height="17" fill="#0000ff"/>
<rect x="255" y="512" width="1" height="18" fill="#0000ff"/>
<rect x="259" y="512" width="1" height="18" fill="#0000ff"/>
<rect x="263" y="512" width="1" height="18" fill="#0000ff"/>
<rect x="267" y="512" width="1" height="19" fill="#0000ff"/>
<rect x="271" y="512" width="1" height="20" fill="#0000ff"/>
<rect x="275" y="512" width="1" height="21" fill="#0000ff"/>
<rect x="279" y="512" width="1" height="20" fill="#0000ff"/>
<rect x="283" y="512" width="1" height="17" fill="#0000ff"/>
<rect x="287" y="512" width="1" height="13" fill="#0000ff"/>
<rect x="291" y="512" width="1" height="9" fill="#0000ff"/>
<rect x="295" y="512" width="1" height="6" fill="#0000ff"/>
<rect x="299" y="512" width="1" height="2" fill="#0000ff"/>
<rect x="303" y="510" width="1" height="3" fill="#0000ff"/>
<rect x="307" y="506" width="1" height="7" fill="#0000ff"/>
<rect x="311" y="501" width="1" height="12" fill="#0000ff"/>
<rect x="315" y="496" width="1" height="17" fill="#0000ff"/>
<rect x="319" y="495" width="1" height="18" fill="#0000ff"/>
<rect x="323" y="496" width="1" height="17" fill="#0000ff"/>
<rect x="327" y="500" width="1" height="13" fill="#0000ff"/>
<rect x="331" y="504" width="1" height="9" fill="#0000ff"/>
<rect x="335" y="508" width="1" height="5" fill="#0000ff"/>
<rect x="339" y="511" width="1" height="2" fill="#0000ff"/>
<rect x="343" y="512" width="1" height="1" fill="#0000ff"/>
<rect x="347" y="512" width="1" height="3" fill="#0000ff"/>
<rect x="351" y="512" width="1" height="4" fill="#0000ff"/>
<rect x="355" y="512" width="1" height="5" fill="#0000ff"/>
<rect x="359" y="512" width="1" height="6" fill="#0000ff"/>
<rect x="363" y="512" width="1" height="7" fill="#0000ff"/>
<rect x="367" y="512" width="1" height="7" fill="#0000ff"/>
<rect x="371" y="512" width="1" height="7" fill="#0000ff"/>
<rect x="375" y="512" width="1" height="6" fill="#0000ff"/>
<rect x="379" y="512" width="1" height="6" fill="#0000ff"/>
<rect x="383" y="512" width="1" height="4" fill="#0000ff"/>
<rect x="387" y="512" width="1" height="4" fill="#0000ff"/>
<rect x="391" y="512" width="1" height="4" fill="#0000ff"/>
<rect x="395" y="512" width="1" height="4" fill="#0000ff"/>
<rect x="399" y="512" width="1" height="3" fill="#0000ff"/>
<rect x="403" y="512" width="1" height="2" fill="#0000ff"/>
<rect x="407" y="512" width="1" height="1" fill="#0000ff"/>
<rect x="411" y="512" width="1" height="1" fill="#0000ff"/>
<rect x="415" y="511" width="1" height="2" fill="#0000ff"/>
<rect x="419" y="511" width="1" height="2" fill="#0000ff"/>
<rect x="423" y="512" width="1" height="1" fill="#0000ff"/>
<rect x="427" y="512" width="1" height="1" fill="#0000ff"/>
<rect x="431" y="512" width="1" height="1" fill="#0000ff"/>
<rect x="435" y="512" width="1" height="3" fill="#0000ff"/>
<rect x="439" y="512" width="1" height="4" fill="#0000ff"/>
<rect x="443" y="512" width="1" height="5" fill="#0000ff"/>
<rect x="447" y="512" width="1" height="6" fill="#0000ff"/>
<rect x="451" y="512" width="1" height="4" fill="#0000ff"/>
<rect x="455" y="512" width="1" height="4" fill="#0000ff"/>
<rect x="459" y="512" width="1" height="4" fill="#0000ff"/>
<rect x="463" y="512" width="1" height="6" fill="#0000ff"/>
<rect x="467" y="512" width="1" height="6" fill="#0000ff"/>
<rect x="471" y="512" width="1" height="6" fill="#0000ff"/>
<rect x="475" y="512" width="1" height="6" fill="#0000ff"/>
<rect x="479" y="512" width="1" height="7" fill="#0000ff"/>
<rect x="483" y="512" width="1" height="11" fill="#0000ff"/>
<rect x="487" y="512" width="1" height="11" fill="#0000ff"/>
<rect x="491" y="512" width="1" height="12" fill="#0000ff"/>
<rect x="495" y="512" width="1" height="14" fill="#0000ff"/>
<rect x="499" y="512" width="1" height="13" fill="#0000ff"/>
<rect x="503" y="512" width="1" height="10" fill="#0000ff"/>
<rect x="507" y="512" width="1" height="7" fill="#0000ff"/>
<rect x="511" y="512" width="1" height="5" fill="#0000ff"/>
<rect x="515" y="512" width="1" height="4" fill="#0000ff"/>
<rect x="519" y="512" width="1" height="3" fill="#0000ff"/>
<rect x="523" y="512" width="1" height="2" fill="#0000ff"/>
<rect x="527" y="512" width="1" height="1" fill="#0000ff"/>
<rect x="531" y="510" width="1" height="3" fill="#0000ff"/>
<rect x="535" y="509" width="1" height="4" fill="#0000ff"/>
<rect x="539" y="507" width="1" height="6" fill="#0000ff"/>
<rect x="543" y="505" width="1" height="8" fill="#0000ff"/>
<rect x="547" y="505" width="1" height="8" fill="#0000ff"/>
<rect x="551" y="506" width="1" height="7" fill="#0000ff"/>
<rect x="555" y="506" width="1" height="7" fill="#0000ff"/>
<rect x="559" y="506" width="1" height="7" fill="#0000ff"/>
<rect x="563" y="505" width="1" height="8" fill="#0000ff"/>
<rect x="567" y="505" width="1" height="8" fill="#0000ff"/>
<rect x="571" y="505" width="1" height="8" fill="#0000ff"/>
<rect x="575" y="505" width="1" height="8" fill="#0000ff"/>
<rect x="579" y="508" width="1" height="5" fill="#0000ff"/>
<rect x="583" y="511" width="1" height="2" fill="#0000ff"/>
<rect x="587" y="512" width="1" height="4" fill="#0000ff"/>
<rect x="591" y="512" width="1" height="7" fill="#0000ff"/>
<rect x="595" y="512" width="1" height="9" fill="#0000ff"/>
<rect x="599" y="512" width="1" height="12" fill="#0000ff"/>
<rect x="603" y="512" width="1" height="14" fill="#0000ff"/>
<rect x="607" y="512" width="1" height="14" fill="#0000ff"/>
<rect x="611" y="512" width="1" height="14" fill="#0000ff"/>
<path d="M111 487h3v1h-3zM117 487h3v1h-3zM105 488h3v1h-3zM99 489h3v1h-3zM123 489h2v1h-2zM94 490h2v1h-2zM125 490h1v1h-1zM93 491h1v1h-1zM89 492h1v1h-1zM129 492h1v1h-1zM87 493h2v1h-2zM130 493h1v1h-1zM131 494h1v1h-1zM82 495h2v1h-2zM81 496h1v1h-1zM135 496h1v1h-1zM69 497h3v1h-3zM75 497h3v1h-3zM136 497h2v1h-2zM21 498h3v1h-3zM27 498h3v1h-3zM33 498h3v1h-3zM64 498h2v1h-2zM15 499h3v1h-3zM39 499h3v1h-3zM45 499h1v1h-1zM63 499h1v1h-1zM9 500h3v1h-3zM46 500h2v1h-2zM51 500h3v1h-3zM57 500h3v1h-3zM3 501h3v1h-3zM141 501h2v1h-2zM333 501h3v1h-3zM339 501h3v1h-3zM143 502h1v1h-1zM345 502h2v1h-2zM328 503h2v1h-2zM347 503h1v1h-1zM327 504h1v1h-1zM147 505h1v1h-1zM351 505h1v1h-1zM568 505h2v1h-2zM573 505h3v1h-3zM579 505h3v1h-3zM148 506h2v1h-2zM352 506h2v1h-2zM561 506h3v1h-3zM567 506h1v1h-1zM585 506h2v1h-2zM323 507h1v1h-1zM555 507h3v1h-3zM587 507h1v1h-1zM321 508h2v1h-2zM591 508h1v1h-1zM153 509h1v1h-1zM357 509h1v1h-1zM549 509h3v1h-3zM592 509h2v1h-2zM154 510h2v1h-2zM358 510h2v1h-2zM545 510h1v1h-1zM543 511h2v1h-2zM597 511h2v1h-2zM159 512h3v1h-3zM317 512h1v1h-1zM429 512h3v1h-3zM435 512h3v1h-3zM441 512h1v1h-1zM599 512h1v1h-1zM316 513h1v1h-1zM363 513h2v1h-2zM418 513h2v1h-2zM423 513h3v1h-3zM442 513h2v1h-2zM539 513h1v1h-1zM165 514h1v1h-1zM315 514h1v1h-1zM365 514h1v1h-1zM413 514h1v1h-1zM417 514h1v1h-1zM447 514h3v1h-3zM537 514h2v1h-2zM166 515h2v1h-2zM411 515h2v1h-2zM453 515h2v1h-2zM603 515h1v1h-1zM369 516h3v1h-3zM405 516h3v1h-3zM455 516h1v1h-1zM459 516h1v1h-1zM533 516h1v1h-1zM604 516h1v1h-1zM171 517h3v1h-3zM177 517h3v1h-3zM183 517h3v1h-3zM189 517h3v1h-3zM195 517h3v1h-3zM201 517h1v1h-1zM375 517h3v1h-3zM393 517h3v1h-3zM399 517h3v1h-3zM460 517h2v1h-2zM465 517h3v1h-3zM471 517h3v1h-3zM531 517h2v1h-2zM605 517h1v1h-1zM202 518h2v1h-2zM311 518h1v1h-1zM381 518h3v1h-3zM387 518h3v1h-3zM477 518h3v1h-3zM609 518h1v1h-1zM207 519h1v1h-1zM310 519h1v1h-1zM483 519h3v1h-3zM527 519h1v1h-1zM610 519h2v1h-2zM208 520h2v1h-2zM309 520h1v1h-1zM489 520h3v1h-3zM525 520h2v1h-2zM213 521h3v1h-3zM219 522h3v1h-3zM495 522h3v1h-3zM501 522h2v1h-2zM519 522h3v1h-3zM304 523h2v1h-2zM503 523h1v1h-1zM507 523h3v1h-3zM513 523h3v1h-3zM225 524h3v1h-3zM303 524h1v1h-1zM231 525h2v1h-2zM299 525h1v1h-1zM233 526h1v1h-1zM297 526h2v1h-2zM237 527h2v1h-2zM239 528h1v1h-1zM292 528h2v1h-2zM243 529h3v1h-3zM249 529h3v1h-3zM255 529h3v1h-3zM261 529h2v1h-2zM291 529h1v1h-1zM263 530h1v1h-1zM267 530h3v1h-3zM287 530h1v1h-1zM273 531h3v1h-3zM279 531h3v1h-3zM285 531h2v1h-2z" fill="#ff0000"/>
<rect x="2.5" y="2.5" width="634" height="328" fill="none" stroke="#000" stroke-width="1"/>
<rect x="2.5" y="332.5" width="634" height="64" fill="none" stroke="#000" stroke-width="1"/>
<rect x="2.5" y="398.5" width="634" height="79" fill="none" stroke="#000" stroke-width="1"/>
<rect x="2.5" y="479.5" width="634" height="57" fill="none" stroke="#000" stroke-width="1"/>
<rect x="636" y="151" width="2" height="2" fill="#ff0000"/>
<rect x="636" y="178" width="2" height="2" fill="#ff0000"/>
<rect x="636" y="198" width="2" height="2" fill="#ff0000"/>
<rect x="636" y="237" width="2" height="2" fill="#008000"/>
<rect x="636" y="251" width="2" height="2" fill="#008000"/>
<rect x="637" y="17" width="2" height="1" fill="#000"/>
<rect x="637" y="66" width="2" height="1" fill="#000"/>
<rect x="637" y="115" width="2" height="1" fill="#000"/>
<rect x="637" y="164" width="2" height="1" fill="#000"/>
<rect x="637" y="213" width="2" height="1" fill="#000"/>
<rect x="637" y="262" width="2" height="1" fill="#000"/>
<rect x="637" y="311" width="2" height="1" fill="#000"/>
<rect x="637" y="333" width="1" height="1" fill="#000"/>
<rect x="637" y="395" width="1" height="1" fill="#000"/>
<rect x="637" y="399" width="1" height="1" fill="#000"/>
<rect x="637" y="476" width="1" height="1" fill="#000"/>
<rect x="637" y="480" width="1" height="1" fill="#000"/>
<rect x="637" y="535" width="1" height="1" fill="#000"/>
<rect x="3" y="537" width="1" height="3" fill="#000"/>
<rect x="99" y="537" width="1" height="3" fill="#000"/>
<rect x="195" y="537" width="1" height="3" fill="#000"/>
<rect x="291" y="537" width="1" height="3" fill="#000"/>
<rect x="387" y="537" width="1" height="3" fill="#000"/>
<rect x="483" y="537" width="1" height="3" fill="#000"/>
<rect x="579" y="537" width="1" height="3" fill="#000"/>
<polygon points="6,10 15,10 10.5,15" fill="#000"/>
</g>
<text x="21.5" y="17" textLength="70.5" lengthAdjust="spacingAndGlyphs">GBPUSD,M30</text>
<text x="101.5" y="17" textLength="45.2" lengthAdjust="spacingAndGlyphs">1.25263</text>
<text x="151.5" y="17" textLength="45.2" lengthAdjust="spacingAndGlyphs">1.25279</text>
<text x="201.5" y="17" textLength="45.2" lengthAdjust="spacingAndGlyphs">1.25237</text>
<text x="251.5" y="17" textLength="45.2" lengthAdjust="spacingAndGlyphs">1.25254</text>
<text x="643.5" y="22" textLength="44.5" lengthAdjust="spacingAndGlyphs">1.27580</text>
<text x="643.5" y="71" textLength="44.5" lengthAdjust="spacingAndGlyphs">1.26980</text>
<text x="643.5" y="120" textLength="44.5" lengthAdjust="spacingAndGlyphs">1.26380</text>
<text x="643.5" y="169" textLength="44.5" lengthAdjust="spacingAndGlyphs">1.25780</text>
<text x="643.5" y="218" textLength="44.5" lengthAdjust="spacingAndGlyphs">1.25180</text>
<text x="643.5" y="267" textLength="44.5" lengthAdjust="spacingAndGlyphs">1.24580</text>
<text x="643.5" y="316" textLength="44.5" lengthAdjust="spacingAndGlyphs">1.23980</text>
<g shape-rendering="crispEdges">
<rect x="637" y="207" width="57" height="7" fill="#000"/>
</g>
<clipPath id="cb"><rect x="637" y="207" width="57" height="7"/></clipPath><g clip-path="url(#cb)">
<text x="643.5" y="212" textLength="44.5" lengthAdjust="spacingAndGlyphs" style="fill:#fff;stroke:#fff">1.25254</text>
</g>
<rect x="638" y="146" width="56" height="14" fill="#ff0000" shape-rendering="crispEdges"/>
<text x="643.5" y="158" textLength="44.5" lengthAdjust="spacingAndGlyphs" style="fill:#fff;stroke:#fff">1.25929</text>
<rect x="638" y="173" width="56" height="14" fill="#ff0000" shape-rendering="crispEdges"/>
<text x="643.5" y="185" textLength="44.5" lengthAdjust="spacingAndGlyphs" style="fill:#fff;stroke:#fff">1.25595</text>
<rect x="638" y="193" width="56" height="14" fill="#ff0000" shape-rendering="crispEdges"/>
<text x="643.5" y="205" textLength="44.5" lengthAdjust="spacingAndGlyphs" style="fill:#fff;stroke:#fff">1.25356</text>
<rect x="638" y="232" width="56" height="14" fill="#008000" shape-rendering="crispEdges"/>
<text x="643.5" y="244" textLength="44.5" lengthAdjust="spacingAndGlyphs" style="fill:#fff;stroke:#fff">1.24874</text>
<rect x="638" y="246" width="56" height="14" fill="#008000" shape-rendering="crispEdges"/>
<text x="643.5" y="258" textLength="44.5" lengthAdjust="spacingAndGlyphs" style="fill:#fff;stroke:#fff">1.24695</text>
<text x="640.5" y="346">100</text>
<text x="639.6" y="357" textLength="12.7" lengthAdjust="spacingAndGlyphs">70</text>
<text x="639.6" y="369" textLength="12.7" lengthAdjust="spacingAndGlyphs">50</text>
<text x="639.6" y="382" textLength="12.7" lengthAdjust="spacingAndGlyphs">30</text>
<text x="640.5" y="393">0</text>
<text x="640.5" y="412">100</text>
<text x="639.6" y="420" textLength="12.7" lengthAdjust="spacingAndGlyphs">80</text>
<text x="639.6" y="443" textLength="12.7" lengthAdjust="spacingAndGlyphs">50</text>
<text x="639.6" y="466" textLength="12.7" lengthAdjust="spacingAndGlyphs">20</text>
<text x="640.5" y="474">0</text>
<text x="640.5" y="493" textLength="51.5" lengthAdjust="spacingAndGlyphs">0.001994</text>
<text x="640.5" y="517" textLength="23.5" lengthAdjust="spacingAndGlyphs">0.00</text>
<text x="640.5" y="517" textLength="6.7" lengthAdjust="spacingAndGlyphs">0</text>
<text x="640.5" y="533" textLength="55.5" lengthAdjust="spacingAndGlyphs">-0.001456</text>
<text x="2.6" y="552" textLength="62.6" lengthAdjust="spacingAndGlyphs">15 Jul 2020</text>
<text x="98.6" y="552" textLength="66.5" lengthAdjust="spacingAndGlyphs">15 Jul 15:30</text>
<text x="194.6" y="552" textLength="66.5" lengthAdjust="spacingAndGlyphs">16 Jul 03:30</text>
<text x="290.6" y="552" textLength="66.5" lengthAdjust="spacingAndGlyphs">16 Jul 15:30</text>
<text x="386.6" y="552" textLength="66.5" lengthAdjust="spacingAndGlyphs">17 Jul 03:30</text>
<text x="482.6" y="552" textLength="66.5" lengthAdjust="spacingAndGlyphs">17 Jul 15:30</text>
<text x="578.6" y="552" textLength="66.5" lengthAdjust="spacingAndGlyphs">20 Jul 03:30</text>
</svg></body></html>
